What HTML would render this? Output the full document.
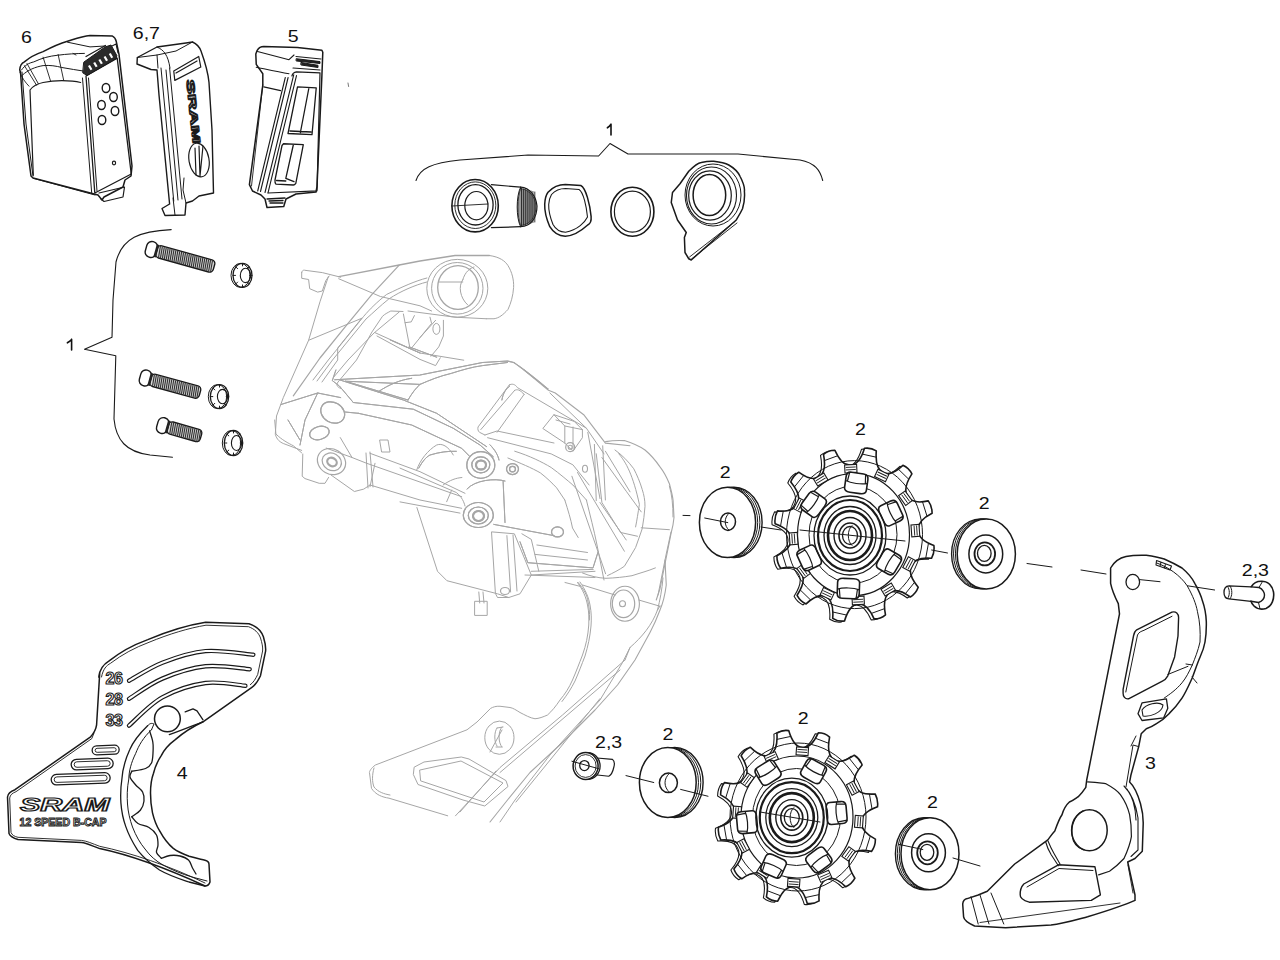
<!DOCTYPE html>
<html><head><meta charset="utf-8"><style>
html,body{margin:0;padding:0;background:#fff;width:1280px;height:960px;overflow:hidden}
svg{display:block;font-family:"Liberation Sans",sans-serif}
</style></head><body>
<svg width="1280" height="960" viewBox="0 0 1280 960" font-family="Liberation Sans, sans-serif">
<rect width="1280" height="960" fill="#fff"/>
<text transform="translate(21,42.5) scale(1.2,1)" font-size="16.3" fill="#111">6</text>
<text transform="translate(132.75,38.5) scale(1.2,1)" font-size="16.3" fill="#111">6,7</text>
<text transform="translate(287.8,41.5) scale(1.2,1)" font-size="16.3" fill="#111">5</text>
<text transform="translate(855.1,435.3) scale(1.2,1)" font-size="16.3" fill="#111">2</text>
<text transform="translate(719.8,477.5) scale(1.2,1)" font-size="16.3" fill="#111">2</text>
<text transform="translate(978.8,509.3) scale(1.2,1)" font-size="16.3" fill="#111">2</text>
<text transform="translate(1241.8,576.2) scale(1.2,1)" font-size="16.3" fill="#111">2,3</text>
<text transform="translate(1144.9,769.3) scale(1.2,1)" font-size="16.3" fill="#111">3</text>
<text transform="translate(176.8,778.8) scale(1.2,1)" font-size="16.3" fill="#111">4</text>
<text transform="translate(797.85,723.6) scale(1.2,1)" font-size="16.3" fill="#111">2</text>
<text transform="translate(662.5,739.7) scale(1.2,1)" font-size="16.3" fill="#111">2</text>
<text transform="translate(595,748.1) scale(1.2,1)" font-size="16.3" fill="#111">2,3</text>
<text transform="translate(927,807.5) scale(1.2,1)" font-size="16.3" fill="#111">2</text>
<path d="M611,124.2 L611,135 M607.4,127.8 C609,126.8 610.2,125.6 611,124.2" fill="none" stroke="#111" stroke-width="1.6" stroke-linejoin="round" stroke-linecap="round" />
<path d="M71.6,339.4 L71.6,350 M67.4,342.8 C69,341.8 70.6,340.6 71.6,339.4" fill="none" stroke="#111" stroke-width="1.6" stroke-linejoin="round" stroke-linecap="round" />
<path d="M416,180.5 C420,168 432,163 460,160 L528,155 L598.6,156 L610,143.5 L628,154 L738,154 L800,160 C815,163 820,170 822.7,180.5" fill="none" stroke="#1a1a1a" stroke-width="1.1" stroke-linejoin="round" stroke-linecap="round" />
<path d="M171.2,229.6 C140,231 122,238 116,262 L113,300 L112,337.3 L84.5,349.3 L115.8,355.7 L114,419 C116,440 126,452 150,455 L172.5,457.3" fill="none" stroke="#1a1a1a" stroke-width="1.1" stroke-linejoin="round" stroke-linecap="round" />
<path d="M491.4,184.6 L520.6,187.2 M491.4,227.6 L520.6,226.7" fill="none" stroke="#1a1a1a" stroke-width="1.2" stroke-linejoin="round" stroke-linecap="round" />
<path d="M520.6,187.2 C530,188 536,196 537,206 C537,218 531,226 520.6,226.7" fill="none" stroke="#1a1a1a" stroke-width="1.2" stroke-linejoin="round" stroke-linecap="round" />
<path d="M520.6,187.2 C516,196 516,218 520.6,226.7" fill="none" stroke="#1a1a1a" stroke-width="1.0" stroke-linejoin="round" stroke-linecap="round" />
<path d="M520.6,188.5 C529,189.5 535.5,197 536,206 C536,217 530,225 520.6,225.5 C517,217 517,197 520.6,188.5 Z" fill="#9a9a9a" stroke="#1a1a1a" stroke-width="0.8" stroke-linejoin="round" stroke-linecap="round" />
<path d="M521.5,188.5 L521.5,225.5" fill="none" stroke="#222" stroke-width="0.9" stroke-linejoin="round" stroke-linecap="round" />
<path d="M523.4,189.0 L523.4,225.0" fill="none" stroke="#222" stroke-width="0.9" stroke-linejoin="round" stroke-linecap="round" />
<path d="M525.3,189.5 L525.3,224.5" fill="none" stroke="#222" stroke-width="0.9" stroke-linejoin="round" stroke-linecap="round" />
<path d="M527.2,190.0 L527.2,224.0" fill="none" stroke="#222" stroke-width="0.9" stroke-linejoin="round" stroke-linecap="round" />
<path d="M529.1,190.5 L529.1,223.5" fill="none" stroke="#222" stroke-width="0.9" stroke-linejoin="round" stroke-linecap="round" />
<path d="M531.0,191.0 L531.0,223.0" fill="none" stroke="#222" stroke-width="0.9" stroke-linejoin="round" stroke-linecap="round" />
<path d="M532.9,191.5 L532.9,222.5" fill="none" stroke="#222" stroke-width="0.9" stroke-linejoin="round" stroke-linecap="round" />
<path d="M534.8,192.0 L534.8,222.0" fill="none" stroke="#222" stroke-width="0.9" stroke-linejoin="round" stroke-linecap="round" />
<ellipse cx="475.1" cy="205.7" rx="23.2" ry="26.2" fill="none" stroke="#1a1a1a" stroke-width="1.6" />
<ellipse cx="475.5" cy="204.8" rx="17.6" ry="20.2" fill="none" stroke="#1a1a1a" stroke-width="1.3" />
<ellipse cx="475.3" cy="205.2" rx="20.5" ry="23.3" fill="none" stroke="#1a1a1a" stroke-width="0.9" />
<ellipse cx="476.4" cy="205.7" rx="11.6" ry="14.2" fill="none" stroke="#1a1a1a" stroke-width="1.2" />
<path d="M452,206 L488,204" fill="none" stroke="#1a1a1a" stroke-width="0.9" stroke-linejoin="round" stroke-linecap="round" />
<path d="M548,192.3 C554,186 560,184.6 565.3,184.6 L580.8,185.5 C586,188 590,205 591.1,216.4 C591.5,221 590,224 587.7,225 C580,232 572,236 565.3,236.2 C558,236 553,232 549.8,226.7 C546,218 544.5,210 544.7,204.4 C545,198 546,195 548,192.3Z" fill="none" stroke="#1a1a1a" stroke-width="1.5" stroke-linejoin="round" stroke-linecap="round" />
<path d="M551.5,194.5 C556,189.5 561,188.5 565.5,188.5 L579,189.5 C583.5,192 586.5,207 587.5,217 C585,222 578,230 565.5,232.2 C559,232 555.5,229 553,224.5 C550,217 548.5,210 548.7,204.5 C549,199 550,197 551.5,194.5Z" fill="none" stroke="#1a1a1a" stroke-width="1.1" stroke-linejoin="round" stroke-linecap="round" />
<ellipse cx="632.4" cy="211.7" rx="21.5" ry="24.5" fill="none" stroke="#1a1a1a" stroke-width="1.6" />
<ellipse cx="632.4" cy="211.7" rx="18.0" ry="20.5" fill="none" stroke="#1a1a1a" stroke-width="1.2" />
<path d="M688.75,258.75 L685,252.5 L684.4,237.5 L686.25,232.5 L677.5,220 L671.25,202.5 L672.5,192.5 L680,183.75 L688.75,171.25 C694,166 698,163 701.25,162.5 C708,161 711,161 713.75,161.25 C720,162 725,163 728.75,165 C734,168 738,172 740,176.25 C743,182 745,187 744.4,191.25 C745,198 744,204 742.5,208.75 C740,214 738,217 736.25,220 L691.25,260 Z" fill="none" stroke="#1a1a1a" stroke-width="1.5" stroke-linejoin="round" stroke-linecap="round" />
<ellipse cx="709.4" cy="195.0" rx="16.3" ry="20.6" fill="none" stroke="#1a1a1a" stroke-width="1.5" />
<ellipse cx="710.0" cy="195.5" rx="21.3" ry="24.7" fill="none" stroke="#1a1a1a" stroke-width="1.2" />
<ellipse cx="711.5" cy="195.5" rx="25.0" ry="28.5" fill="none" stroke="#1a1a1a" stroke-width="1.1" />
<ellipse cx="713.0" cy="195.0" rx="28.0" ry="31.0" fill="none" stroke="#1a1a1a" stroke-width="1.0" />
<path d="M689.5,257 L735,221.5 M691.5,259 L737,223" fill="none" stroke="#1a1a1a" stroke-width="0.9" stroke-linejoin="round" stroke-linecap="round" />
<g transform="translate(151.5,249.5) rotate(15.6)"><rect x="5.2" y="-6.3" width="59.7" height="12.6" rx="3.8" fill="#d8d8d8" stroke="#1a1a1a" stroke-width="1.4"/><path d="M7.7,-5.8 L8.9,5.8" stroke="#333" stroke-width="1.15"/><path d="M9.7,-5.8 L10.9,5.8" stroke="#333" stroke-width="1.15"/><path d="M11.7,-5.8 L12.9,5.8" stroke="#333" stroke-width="1.15"/><path d="M13.7,-5.8 L14.9,5.8" stroke="#333" stroke-width="1.15"/><path d="M15.7,-5.8 L16.9,5.8" stroke="#333" stroke-width="1.15"/><path d="M17.7,-5.8 L18.9,5.8" stroke="#333" stroke-width="1.15"/><path d="M19.7,-5.8 L20.9,5.8" stroke="#333" stroke-width="1.15"/><path d="M21.7,-5.8 L22.9,5.8" stroke="#333" stroke-width="1.15"/><path d="M23.7,-5.8 L24.9,5.8" stroke="#333" stroke-width="1.15"/><path d="M25.7,-5.8 L26.9,5.8" stroke="#333" stroke-width="1.15"/><path d="M27.7,-5.8 L28.9,5.8" stroke="#333" stroke-width="1.15"/><path d="M29.7,-5.8 L30.9,5.8" stroke="#333" stroke-width="1.15"/><path d="M31.7,-5.8 L32.9,5.8" stroke="#333" stroke-width="1.15"/><path d="M33.7,-5.8 L34.9,5.8" stroke="#333" stroke-width="1.15"/><path d="M35.7,-5.8 L36.9,5.8" stroke="#333" stroke-width="1.15"/><path d="M37.7,-5.8 L38.9,5.8" stroke="#333" stroke-width="1.15"/><path d="M39.7,-5.8 L40.9,5.8" stroke="#333" stroke-width="1.15"/><path d="M41.7,-5.8 L42.9,5.8" stroke="#333" stroke-width="1.15"/><path d="M43.7,-5.8 L44.9,5.8" stroke="#333" stroke-width="1.15"/><path d="M45.7,-5.8 L46.9,5.8" stroke="#333" stroke-width="1.15"/><path d="M47.7,-5.8 L48.9,5.8" stroke="#333" stroke-width="1.15"/><path d="M49.7,-5.8 L50.9,5.8" stroke="#333" stroke-width="1.15"/><path d="M51.7,-5.8 L52.9,5.8" stroke="#333" stroke-width="1.15"/><path d="M53.7,-5.8 L54.9,5.8" stroke="#333" stroke-width="1.15"/><path d="M55.7,-5.8 L56.9,5.8" stroke="#333" stroke-width="1.15"/><path d="M57.7,-5.8 L58.9,5.8" stroke="#333" stroke-width="1.15"/><path d="M59.7,-5.8 L60.9,5.8" stroke="#333" stroke-width="1.15"/><path d="M61.7,-5.8 L62.9,5.8" stroke="#333" stroke-width="1.15"/><rect x="-5.6" y="-8.0" width="11.0" height="16.0" rx="5.2" fill="#fff" stroke="#1a1a1a" stroke-width="1.4"/><rect x="3.7" y="-6.5" width="2.6" height="13.0" fill="#222"/></g>
<g transform="translate(145.5,378) rotate(15.4)"><rect x="5.2" y="-6.3" width="51.3" height="12.6" rx="3.8" fill="#d8d8d8" stroke="#1a1a1a" stroke-width="1.4"/><path d="M7.7,-5.8 L8.9,5.8" stroke="#333" stroke-width="1.15"/><path d="M9.7,-5.8 L10.9,5.8" stroke="#333" stroke-width="1.15"/><path d="M11.7,-5.8 L12.9,5.8" stroke="#333" stroke-width="1.15"/><path d="M13.7,-5.8 L14.9,5.8" stroke="#333" stroke-width="1.15"/><path d="M15.7,-5.8 L16.9,5.8" stroke="#333" stroke-width="1.15"/><path d="M17.7,-5.8 L18.9,5.8" stroke="#333" stroke-width="1.15"/><path d="M19.7,-5.8 L20.9,5.8" stroke="#333" stroke-width="1.15"/><path d="M21.7,-5.8 L22.9,5.8" stroke="#333" stroke-width="1.15"/><path d="M23.7,-5.8 L24.9,5.8" stroke="#333" stroke-width="1.15"/><path d="M25.7,-5.8 L26.9,5.8" stroke="#333" stroke-width="1.15"/><path d="M27.7,-5.8 L28.9,5.8" stroke="#333" stroke-width="1.15"/><path d="M29.7,-5.8 L30.9,5.8" stroke="#333" stroke-width="1.15"/><path d="M31.7,-5.8 L32.9,5.8" stroke="#333" stroke-width="1.15"/><path d="M33.7,-5.8 L34.9,5.8" stroke="#333" stroke-width="1.15"/><path d="M35.7,-5.8 L36.9,5.8" stroke="#333" stroke-width="1.15"/><path d="M37.7,-5.8 L38.9,5.8" stroke="#333" stroke-width="1.15"/><path d="M39.7,-5.8 L40.9,5.8" stroke="#333" stroke-width="1.15"/><path d="M41.7,-5.8 L42.9,5.8" stroke="#333" stroke-width="1.15"/><path d="M43.7,-5.8 L44.9,5.8" stroke="#333" stroke-width="1.15"/><path d="M45.7,-5.8 L46.9,5.8" stroke="#333" stroke-width="1.15"/><path d="M47.7,-5.8 L48.9,5.8" stroke="#333" stroke-width="1.15"/><path d="M49.7,-5.8 L50.9,5.8" stroke="#333" stroke-width="1.15"/><path d="M51.7,-5.8 L52.9,5.8" stroke="#333" stroke-width="1.15"/><path d="M53.7,-5.8 L54.9,5.8" stroke="#333" stroke-width="1.15"/><rect x="-5.6" y="-8.0" width="11.0" height="16.0" rx="5.2" fill="#fff" stroke="#1a1a1a" stroke-width="1.4"/><rect x="3.7" y="-6.5" width="2.6" height="13.0" fill="#222"/></g>
<g transform="translate(162.8,425.6) rotate(15.9)"><rect x="5.2" y="-6.3" width="34.5" height="12.6" rx="3.8" fill="#d8d8d8" stroke="#1a1a1a" stroke-width="1.4"/><path d="M7.7,-5.8 L8.9,5.8" stroke="#333" stroke-width="1.15"/><path d="M9.7,-5.8 L10.9,5.8" stroke="#333" stroke-width="1.15"/><path d="M11.7,-5.8 L12.9,5.8" stroke="#333" stroke-width="1.15"/><path d="M13.7,-5.8 L14.9,5.8" stroke="#333" stroke-width="1.15"/><path d="M15.7,-5.8 L16.9,5.8" stroke="#333" stroke-width="1.15"/><path d="M17.7,-5.8 L18.9,5.8" stroke="#333" stroke-width="1.15"/><path d="M19.7,-5.8 L20.9,5.8" stroke="#333" stroke-width="1.15"/><path d="M21.7,-5.8 L22.9,5.8" stroke="#333" stroke-width="1.15"/><path d="M23.7,-5.8 L24.9,5.8" stroke="#333" stroke-width="1.15"/><path d="M25.7,-5.8 L26.9,5.8" stroke="#333" stroke-width="1.15"/><path d="M27.7,-5.8 L28.9,5.8" stroke="#333" stroke-width="1.15"/><path d="M29.7,-5.8 L30.9,5.8" stroke="#333" stroke-width="1.15"/><path d="M31.7,-5.8 L32.9,5.8" stroke="#333" stroke-width="1.15"/><path d="M33.7,-5.8 L34.9,5.8" stroke="#333" stroke-width="1.15"/><path d="M35.7,-5.8 L36.9,5.8" stroke="#333" stroke-width="1.15"/><path d="M37.7,-5.8 L38.9,5.8" stroke="#333" stroke-width="1.15"/><rect x="-5.6" y="-8.0" width="11.0" height="16.0" rx="5.2" fill="#fff" stroke="#1a1a1a" stroke-width="1.4"/><rect x="3.7" y="-6.5" width="2.6" height="13.0" fill="#222"/></g>
<ellipse cx="242.5" cy="275.4" rx="9.5" ry="12.0" fill="#fff" stroke="#1a1a1a" stroke-width="1.3" />
<ellipse cx="245.5" cy="275.4" rx="5.2" ry="7.2" fill="none" stroke="#1a1a1a" stroke-width="1.1" />
<path d="M252.0,275.4 L249.5,275.4" fill="none" stroke="#1a1a1a" stroke-width="1" stroke-linejoin="round" stroke-linecap="round" />
<path d="M249.2,283.9 L247.4,282.1" fill="none" stroke="#1a1a1a" stroke-width="1" stroke-linejoin="round" stroke-linecap="round" />
<path d="M242.5,287.4 L242.5,284.9" fill="none" stroke="#1a1a1a" stroke-width="1" stroke-linejoin="round" stroke-linecap="round" />
<path d="M235.8,283.9 L237.6,282.1" fill="none" stroke="#1a1a1a" stroke-width="1" stroke-linejoin="round" stroke-linecap="round" />
<path d="M233.0,275.4 L235.5,275.4" fill="none" stroke="#1a1a1a" stroke-width="1" stroke-linejoin="round" stroke-linecap="round" />
<path d="M235.8,266.9 L237.6,268.7" fill="none" stroke="#1a1a1a" stroke-width="1" stroke-linejoin="round" stroke-linecap="round" />
<path d="M242.5,263.4 L242.5,265.9" fill="none" stroke="#1a1a1a" stroke-width="1" stroke-linejoin="round" stroke-linecap="round" />
<path d="M249.2,266.9 L247.4,268.7" fill="none" stroke="#1a1a1a" stroke-width="1" stroke-linejoin="round" stroke-linecap="round" />
<ellipse cx="240.5" cy="275.4" rx="9.5" ry="12.0" fill="none" stroke="#1a1a1a" stroke-width="1.0" />
<ellipse cx="219.5" cy="396.6" rx="9.2" ry="12.0" fill="#fff" stroke="#1a1a1a" stroke-width="1.3" />
<ellipse cx="222.5" cy="396.6" rx="5.1" ry="7.2" fill="none" stroke="#1a1a1a" stroke-width="1.1" />
<path d="M228.7,396.6 L226.2,396.6" fill="none" stroke="#1a1a1a" stroke-width="1" stroke-linejoin="round" stroke-linecap="round" />
<path d="M226.0,405.1 L224.2,403.3" fill="none" stroke="#1a1a1a" stroke-width="1" stroke-linejoin="round" stroke-linecap="round" />
<path d="M219.5,408.6 L219.5,406.1" fill="none" stroke="#1a1a1a" stroke-width="1" stroke-linejoin="round" stroke-linecap="round" />
<path d="M213.0,405.1 L214.8,403.3" fill="none" stroke="#1a1a1a" stroke-width="1" stroke-linejoin="round" stroke-linecap="round" />
<path d="M210.3,396.6 L212.8,396.6" fill="none" stroke="#1a1a1a" stroke-width="1" stroke-linejoin="round" stroke-linecap="round" />
<path d="M213.0,388.1 L214.8,389.9" fill="none" stroke="#1a1a1a" stroke-width="1" stroke-linejoin="round" stroke-linecap="round" />
<path d="M219.5,384.6 L219.5,387.1" fill="none" stroke="#1a1a1a" stroke-width="1" stroke-linejoin="round" stroke-linecap="round" />
<path d="M226.0,388.1 L224.2,389.9" fill="none" stroke="#1a1a1a" stroke-width="1" stroke-linejoin="round" stroke-linecap="round" />
<ellipse cx="217.5" cy="396.6" rx="9.2" ry="12.0" fill="none" stroke="#1a1a1a" stroke-width="1.0" />
<ellipse cx="233.5" cy="443.0" rx="9.2" ry="12.5" fill="#fff" stroke="#1a1a1a" stroke-width="1.3" />
<ellipse cx="236.5" cy="443.0" rx="5.1" ry="7.5" fill="none" stroke="#1a1a1a" stroke-width="1.1" />
<path d="M242.7,443.0 L240.2,443.0" fill="none" stroke="#1a1a1a" stroke-width="1" stroke-linejoin="round" stroke-linecap="round" />
<path d="M240.0,451.8 L238.2,450.1" fill="none" stroke="#1a1a1a" stroke-width="1" stroke-linejoin="round" stroke-linecap="round" />
<path d="M233.5,455.5 L233.5,453.0" fill="none" stroke="#1a1a1a" stroke-width="1" stroke-linejoin="round" stroke-linecap="round" />
<path d="M227.0,451.8 L228.8,450.1" fill="none" stroke="#1a1a1a" stroke-width="1" stroke-linejoin="round" stroke-linecap="round" />
<path d="M224.3,443.0 L226.8,443.0" fill="none" stroke="#1a1a1a" stroke-width="1" stroke-linejoin="round" stroke-linecap="round" />
<path d="M227.0,434.2 L228.8,435.9" fill="none" stroke="#1a1a1a" stroke-width="1" stroke-linejoin="round" stroke-linecap="round" />
<path d="M233.5,430.5 L233.5,433.0" fill="none" stroke="#1a1a1a" stroke-width="1" stroke-linejoin="round" stroke-linecap="round" />
<path d="M240.0,434.2 L238.2,435.9" fill="none" stroke="#1a1a1a" stroke-width="1" stroke-linejoin="round" stroke-linecap="round" />
<ellipse cx="231.5" cy="443.0" rx="9.2" ry="12.5" fill="none" stroke="#1a1a1a" stroke-width="1.0" />
<path d="M19.7,70 C20,65 22,63 24.4,61.9 C30,57 36,54 43.1,51.6 C50,48 58,44 67.5,41.25 C75,39 82,36.5 90,35.6 L112.5,36.1 C114.5,37 115.7,39 116.2,41.25 L119,54.4 L132,166 L131,176 L125,180 L123,187 L104,197 L102,200 L98,195 L33,178 L31,176 L24,124 L20.5,72 Z" fill="none" stroke="#1a1a1a" stroke-width="1.5" stroke-linejoin="round" stroke-linecap="round" />
<path d="M22,72 L26,124 L33,176" fill="none" stroke="#1a1a1a" stroke-width="1.0" stroke-linejoin="round" stroke-linecap="round" />
<path d="M86,76 L117.2,58.1 L131.25,174 L94.8,193 Z" fill="none" stroke="#1a1a1a" stroke-width="1.3" stroke-linejoin="round" stroke-linecap="round" />
<path d="M82.5,78 L91.7,193 M88.5,78 L97,191" fill="none" stroke="#1a1a1a" stroke-width="1.0" stroke-linejoin="round" stroke-linecap="round" />
<path d="M30,90 C33,86 38,83.5 43.1,82.5 C50,81 56,80.6 61.9,80.6 C68,80.6 75,81 80.6,82.5 M30,90 L33.3,175.2" fill="none" stroke="#1a1a1a" stroke-width="1.2" stroke-linejoin="round" stroke-linecap="round" />
<path d="M33.3,178.3 L95,195" fill="none" stroke="#1a1a1a" stroke-width="1.0" stroke-linejoin="round" stroke-linecap="round" />
<path d="M21.5,70 C25,65 29,63 33.75,61.9 C42,58 50,56 57.2,55.3 C67,54 76,53.5 84.4,53.4" fill="none" stroke="#1a1a1a" stroke-width="1.0" stroke-linejoin="round" stroke-linecap="round" />
<path d="M22.5,75 C28,70 35,67 43.1,65.6 C50,65 56,66 61.9,67.5 C70,69 77,70 84.4,71.2" fill="none" stroke="#1a1a1a" stroke-width="1.0" stroke-linejoin="round" stroke-linecap="round" />
<path d="M67.5,42.2 L90,46.9 L105,46" fill="none" stroke="#1a1a1a" stroke-width="1.0" stroke-linejoin="round" stroke-linecap="round" />
<path d="M24.4,65.6 L36.6,85.3 M27,63.5 L38.5,84 M43.1,57.2 L50.6,81.1 M58.1,54.4 L63.75,80.6 M73.1,53.4 L76,55" fill="none" stroke="#1a1a1a" stroke-width="0.9" stroke-linejoin="round" stroke-linecap="round" />
<path d="M19.7,72 C22,78 25,82 29,86.2" fill="none" stroke="#1a1a1a" stroke-width="0.9" stroke-linejoin="round" stroke-linecap="round" />
<path d="M84,62 L105,47 L111,45 L116.8,55.5 L116.2,58.5 L87,75.5 L83,73 Z" fill="#2b2b2b" stroke="#1a1a1a" stroke-width="1.0" stroke-linejoin="round" stroke-linecap="round" />
<path d="M86,56.5 L105.5,45.5" fill="none" stroke="#1a1a1a" stroke-width="1.3" stroke-linejoin="round" stroke-linecap="round" />
<rect x="88.0" y="66.0" width="2.2" height="5" fill="#fff" transform="rotate(-30 88.0 66.0)"/>
<rect x="93.2" y="63.0" width="2.2" height="5" fill="#fff" transform="rotate(-30 93.2 63.0)"/>
<rect x="98.4" y="60.0" width="2.2" height="5" fill="#fff" transform="rotate(-30 98.4 60.0)"/>
<rect x="103.6" y="57.0" width="2.2" height="5" fill="#fff" transform="rotate(-30 103.6 57.0)"/>
<rect x="108.8" y="54.0" width="2.2" height="5" fill="#fff" transform="rotate(-30 108.8 54.0)"/>
<path d="M112,46 L116,44 L118,53" fill="none" stroke="#1a1a1a" stroke-width="1.1" stroke-linejoin="round" stroke-linecap="round" />
<ellipse cx="106.0" cy="88.0" rx="3.8" ry="4.5" fill="none" stroke="#1a1a1a" stroke-width="1.4" />
<ellipse cx="113.5" cy="97.0" rx="3.8" ry="4.5" fill="none" stroke="#1a1a1a" stroke-width="1.4" />
<ellipse cx="101.5" cy="105.0" rx="3.8" ry="4.5" fill="none" stroke="#1a1a1a" stroke-width="1.4" />
<ellipse cx="115.0" cy="111.0" rx="3.8" ry="4.5" fill="none" stroke="#1a1a1a" stroke-width="1.4" />
<ellipse cx="102.0" cy="120.0" rx="3.8" ry="4.5" fill="none" stroke="#1a1a1a" stroke-width="1.4" />
<ellipse cx="114.0" cy="163.0" rx="1.6" ry="1.8" fill="none" stroke="#1a1a1a" stroke-width="1.2" />
<path d="M99,193 L124.5,187 L123,197 L104,201.5 L101,199" fill="none" stroke="#1a1a1a" stroke-width="1.2" stroke-linejoin="round" stroke-linecap="round" />
<path d="M137.3,57.5 L157,47 L186,43 L192.5,42 C197,44 199.5,47 201,51 C205,62 208,72 209,82.5 L212,130 L213.5,193 L199,196 L192.5,201 L186,203 L185,215 L165,215.5 L162,208.5 L169.6,204 L159,95 L157,70 L151,69.5 L137,64 Z" fill="none" stroke="#1a1a1a" stroke-width="1.4" stroke-linejoin="round" stroke-linecap="round" />
<path d="M137.3,57.5 L157,55 L176,51 L192.5,42 M157,55 L158,68 M161,68 L173.75,201 M166,70 L178,200 M169.6,68 L182,199" fill="none" stroke="#1a1a1a" stroke-width="1.0" stroke-linejoin="round" stroke-linecap="round" />
<path d="M157,47 C164,50 168,55 170,68" fill="none" stroke="#1a1a1a" stroke-width="1.0" stroke-linejoin="round" stroke-linecap="round" />
<path d="M173.75,71 L198.75,56.5 L200.8,67 L174.8,80.4 Z M176,73 L197,61" fill="none" stroke="#1a1a1a" stroke-width="1.2" stroke-linejoin="round" stroke-linecap="round" />
<text x="0" y="0" font-size="11" font-weight="bold" fill="#fff" stroke="#1a1a1a" stroke-width="1.2" stroke-linejoin="round" transform="translate(186.2,80) rotate(84)" textLength="64" lengthAdjust="spacingAndGlyphs">SRAM</text>
<ellipse cx="199.0" cy="160.0" rx="10.0" ry="17.0" fill="none" stroke="#1a1a1a" stroke-width="1.2" transform="rotate(-10 199 160)" />
<path d="M195,148 L196,175 M199,146 L200,176 L203,146" fill="none" stroke="#1a1a1a" stroke-width="1.2" stroke-linejoin="round" stroke-linecap="round" />
<path d="M173,198 L175,215 M186,203 L183,190 L184,178" fill="none" stroke="#1a1a1a" stroke-width="1.0" stroke-linejoin="round" stroke-linecap="round" />
<path d="M257.2,50.3 C259,47.5 261,46.6 263.75,46.6 L297.5,47.5 L321.9,50.3 L322.8,52.2 L321.9,75.6 L317,186.7 L316,192 L296,194 L286,199 L283.75,206.5 L267,207.5 L265,199 L261,195 L252.5,191 L249.4,184.6 L262.8,85 L262.8,73.75 L256.25,64.4 L255.8,54 Z" fill="none" stroke="#1a1a1a" stroke-width="1.5" stroke-linejoin="round" stroke-linecap="round" />
<path d="M256.25,67.2 C265,69 278,72 289,73.75 M263.75,86.9 L280.6,90.6 M257.5,51.5 L289,59.7 L294,55" fill="none" stroke="#1a1a1a" stroke-width="1.1" stroke-linejoin="round" stroke-linecap="round" />
<path d="M262.8,85 L251.5,186" fill="none" stroke="#1a1a1a" stroke-width="0.9" stroke-linejoin="round" stroke-linecap="round" />
<path d="M285.3,77.5 L257.7,191 M288.1,77.5 L260.5,191.5 M293.75,74.7 L265,192.5 M296.5,75.6 L268,192.8" fill="none" stroke="#1a1a1a" stroke-width="1.1" stroke-linejoin="round" stroke-linecap="round" />
<path d="M291.9,76 C292.5,73.5 294,72.2 296.5,71.9 L320,72.8 L317,190.8 L268,193" fill="none" stroke="#1a1a1a" stroke-width="1.2" stroke-linejoin="round" stroke-linecap="round" />
<path d="M297.5,86.9 L316.25,87.8 L312,134.6 L288,133.5 Z M308.75,88.75 L300.4,132.5 M290,131 L311,132" fill="none" stroke="#1a1a1a" stroke-width="1.3" stroke-linejoin="round" stroke-linecap="round" />
<path d="M283.5,143.75 L303.3,144.6 L295.8,183.3 C295,184.5 294,185 293.3,185 L276,184.2 C275,183.5 274.8,182 275,180 L282,145.5 Z M293.3,145 L285.8,178.3 L294,181.7 M276.5,180.5 L285.8,181" fill="none" stroke="#1a1a1a" stroke-width="1.3" stroke-linejoin="round" stroke-linecap="round" />
<path d="M296.5,58.75 L320,61.6 L320,63.5 L296.5,61 Z M301.25,62.5 L318,65.3 L318,67.5 L301.25,65 Z" fill="#222" stroke="#1a1a1a" stroke-width="1.0" stroke-linejoin="round" stroke-linecap="round" />
<path d="M296,56.5 L321,59 M293,68 L320,70" fill="none" stroke="#1a1a1a" stroke-width="1.1" stroke-linejoin="round" stroke-linecap="round" />
<path d="M267,199 L285,198 M270,203 L283,203 M269,201 L283,200.5" fill="none" stroke="#1a1a1a" stroke-width="1.3" stroke-linejoin="round" stroke-linecap="round" />
<path d="M348,83 L348.6,86.5" fill="none" stroke="#777" stroke-width="1.0" stroke-linejoin="round" stroke-linecap="round" />
<path d="M930.9,546.5 Q931.8,553.4 928.5,559.3 C916.2,558.3 910.8,561.0 908.5,566.7 C905.7,572.2 907.1,578.4 915.2,588.2 Q912.9,594.6 907.3,598.0 C897.2,590.6 891.3,590.0 886.6,593.7 C881.7,596.9 880.0,603.0 882.5,615.8 Q877.5,620.0 871.1,619.9 C865.9,608.2 861.1,604.5 855.4,605.1 C849.7,605.2 845.3,609.5 841.5,621.9 Q835.2,622.9 829.7,619.3 C830.7,606.3 828.3,600.5 823.1,597.9 C818.1,594.9 812.3,596.3 803.1,604.9 Q797.2,602.3 794.1,596.3 C801.1,585.5 801.8,579.1 798.4,574.0 C795.5,568.7 789.8,566.7 777.7,569.3 Q773.8,563.9 773.9,556.9 C785.0,551.3 788.5,546.1 787.9,539.9 C787.8,533.6 783.8,528.9 772.1,524.7 Q771.2,517.8 774.5,511.9 C786.8,512.9 792.2,510.2 794.5,504.5 C797.3,499.0 795.9,492.8 787.8,483.0 Q790.1,476.6 795.7,473.2 C805.8,480.6 811.7,481.2 816.4,477.5 C821.3,474.3 823.0,468.2 820.5,455.4 Q825.5,451.2 831.9,451.3 C837.1,463.0 841.9,466.7 847.6,466.1 C853.3,466.0 857.7,461.7 861.5,449.3 Q867.8,448.3 873.3,451.9 C872.3,464.9 874.7,470.7 879.9,473.3 C884.9,476.3 890.7,474.9 899.9,466.3 Q905.8,468.9 908.9,474.9 C901.9,485.7 901.2,492.1 904.6,497.2 C907.5,502.5 913.2,504.5 925.3,501.9 Q929.2,507.3 929.1,514.3 C918.0,519.9 914.5,525.1 915.1,531.3 C915.2,537.6 919.2,542.3 930.9,546.5Z" fill="#fff" stroke="#1a1a1a" stroke-width="1.1" stroke-linejoin="round" stroke-linecap="round" />
<path d="M933.9,545.5 Q934.8,552.4 931.5,558.3 C919.2,557.3 913.8,560.0 911.5,565.7 C908.7,571.2 910.1,577.4 918.2,587.2 Q915.9,593.6 910.3,597.0 C900.2,589.6 894.3,589.0 889.6,592.7 C884.7,595.9 883.0,602.0 885.5,614.8 Q880.5,619.0 874.1,618.9 C868.9,607.2 864.1,603.5 858.4,604.1 C852.7,604.2 848.3,608.5 844.5,620.9 Q838.2,621.9 832.7,618.3 C833.7,605.3 831.3,599.5 826.1,596.9 C821.1,593.9 815.3,595.3 806.1,603.9 Q800.2,601.3 797.1,595.3 C804.1,584.5 804.8,578.1 801.4,573.0 C798.5,567.7 792.8,565.7 780.7,568.3 Q776.8,562.9 776.9,555.9 C788.0,550.3 791.5,545.1 790.9,538.9 C790.8,532.6 786.8,527.9 775.1,523.7 Q774.2,516.8 777.5,510.9 C789.8,511.9 795.2,509.2 797.5,503.5 C800.3,498.0 798.9,491.8 790.8,482.0 Q793.1,475.6 798.7,472.2 C808.8,479.6 814.7,480.2 819.4,476.5 C824.3,473.3 826.0,467.2 823.5,454.4 Q828.5,450.2 834.9,450.3 C840.1,462.0 844.9,465.7 850.6,465.1 C856.3,465.0 860.7,460.7 864.5,448.3 Q870.8,447.3 876.3,450.9 C875.3,463.9 877.7,469.7 882.9,472.3 C887.9,475.3 893.7,473.9 902.9,465.3 Q908.8,467.9 911.9,473.9 C904.9,484.7 904.2,491.1 907.6,496.2 C910.5,501.5 916.2,503.5 928.3,500.9 Q932.2,506.3 932.1,513.3 C921.0,518.9 917.5,524.1 918.1,530.3 C918.2,536.6 922.2,541.3 933.9,545.5Z" fill="#fff" stroke="#1a1a1a" stroke-width="1.6" stroke-linejoin="round" stroke-linecap="round" />
<path d="M928.4,543.5 L925.8,557.8" fill="none" stroke="#1a1a1a" stroke-width="1.0" stroke-linejoin="round" stroke-linecap="round" />
<path d="M914.4,582.5 L905.6,593.4" fill="none" stroke="#1a1a1a" stroke-width="1.0" stroke-linejoin="round" stroke-linecap="round" />
<path d="M884.4,608.7 L871.7,613.3" fill="none" stroke="#1a1a1a" stroke-width="1.0" stroke-linejoin="round" stroke-linecap="round" />
<path d="M846.3,615.0 L833.2,612.1" fill="none" stroke="#1a1a1a" stroke-width="1.0" stroke-linejoin="round" stroke-linecap="round" />
<path d="M810.4,599.8 L800.4,590.1" fill="none" stroke="#1a1a1a" stroke-width="1.0" stroke-linejoin="round" stroke-linecap="round" />
<path d="M786.4,567.1 L782.1,553.3" fill="none" stroke="#1a1a1a" stroke-width="1.0" stroke-linejoin="round" stroke-linecap="round" />
<path d="M780.6,525.7 L783.2,511.4" fill="none" stroke="#1a1a1a" stroke-width="1.0" stroke-linejoin="round" stroke-linecap="round" />
<path d="M794.6,486.7 L803.4,475.8" fill="none" stroke="#1a1a1a" stroke-width="1.0" stroke-linejoin="round" stroke-linecap="round" />
<path d="M824.6,460.5 L837.3,455.9" fill="none" stroke="#1a1a1a" stroke-width="1.0" stroke-linejoin="round" stroke-linecap="round" />
<path d="M862.7,454.2 L875.8,457.1" fill="none" stroke="#1a1a1a" stroke-width="1.0" stroke-linejoin="round" stroke-linecap="round" />
<path d="M898.6,469.4 L908.6,479.1" fill="none" stroke="#1a1a1a" stroke-width="1.0" stroke-linejoin="round" stroke-linecap="round" />
<path d="M922.6,502.1 L926.9,515.9" fill="none" stroke="#1a1a1a" stroke-width="1.0" stroke-linejoin="round" stroke-linecap="round" />
<ellipse cx="854.5" cy="534.6" rx="68.0" ry="74.0" fill="none" stroke="#1a1a1a" stroke-width="1.0" />
<ellipse cx="853.5" cy="534.6" rx="56.0" ry="61.0" fill="none" stroke="#1a1a1a" stroke-width="1.2" />
<ellipse cx="853.0" cy="534.6" rx="44.0" ry="48.5" fill="none" stroke="#1a1a1a" stroke-width="1.0" />
<g transform="translate(909.1,564.0) rotate(118)"><rect x="-6" y="-4" width="12" height="8" fill="#fff" stroke="#1a1a1a" stroke-width="1.1"/><path d="M-5,-1.5 L5,-1.5 M-5,1 L5,1" stroke="#1a1a1a" stroke-width="0.9"/></g>
<g transform="translate(888.2,589.6) rotate(149)"><rect x="-6" y="-4" width="12" height="8" fill="#fff" stroke="#1a1a1a" stroke-width="1.1"/><path d="M-5,-1.5 L5,-1.5 M-5,1 L5,1" stroke="#1a1a1a" stroke-width="0.9"/></g>
<g transform="translate(858.2,600.5) rotate(177)"><rect x="-6" y="-4" width="12" height="8" fill="#fff" stroke="#1a1a1a" stroke-width="1.1"/><path d="M-5,-1.5 L5,-1.5 M-5,1 L5,1" stroke="#1a1a1a" stroke-width="0.9"/></g>
<g transform="translate(827.3,593.7) rotate(205)"><rect x="-6" y="-4" width="12" height="8" fill="#fff" stroke="#1a1a1a" stroke-width="1.1"/><path d="M-5,-1.5 L5,-1.5 M-5,1 L5,1" stroke="#1a1a1a" stroke-width="0.9"/></g>
<g transform="translate(803.6,571.0) rotate(234)"><rect x="-6" y="-4" width="12" height="8" fill="#fff" stroke="#1a1a1a" stroke-width="1.1"/><path d="M-5,-1.5 L5,-1.5 M-5,1 L5,1" stroke="#1a1a1a" stroke-width="0.9"/></g>
<g transform="translate(793.6,538.6) rotate(266)"><rect x="-6" y="-4" width="12" height="8" fill="#fff" stroke="#1a1a1a" stroke-width="1.1"/><path d="M-5,-1.5 L5,-1.5 M-5,1 L5,1" stroke="#1a1a1a" stroke-width="0.9"/></g>
<g transform="translate(799.9,505.2) rotate(-62)"><rect x="-6" y="-4" width="12" height="8" fill="#fff" stroke="#1a1a1a" stroke-width="1.1"/><path d="M-5,-1.5 L5,-1.5 M-5,1 L5,1" stroke="#1a1a1a" stroke-width="0.9"/></g>
<g transform="translate(820.8,479.6) rotate(-31)"><rect x="-6" y="-4" width="12" height="8" fill="#fff" stroke="#1a1a1a" stroke-width="1.1"/><path d="M-5,-1.5 L5,-1.5 M-5,1 L5,1" stroke="#1a1a1a" stroke-width="0.9"/></g>
<g transform="translate(850.8,468.7) rotate(-3)"><rect x="-6" y="-4" width="12" height="8" fill="#fff" stroke="#1a1a1a" stroke-width="1.1"/><path d="M-5,-1.5 L5,-1.5 M-5,1 L5,1" stroke="#1a1a1a" stroke-width="0.9"/></g>
<g transform="translate(881.7,475.5) rotate(25)"><rect x="-6" y="-4" width="12" height="8" fill="#fff" stroke="#1a1a1a" stroke-width="1.1"/><path d="M-5,-1.5 L5,-1.5 M-5,1 L5,1" stroke="#1a1a1a" stroke-width="0.9"/></g>
<g transform="translate(905.4,498.2) rotate(54)"><rect x="-6" y="-4" width="12" height="8" fill="#fff" stroke="#1a1a1a" stroke-width="1.1"/><path d="M-5,-1.5 L5,-1.5 M-5,1 L5,1" stroke="#1a1a1a" stroke-width="0.9"/></g>
<g transform="translate(915.4,530.6) rotate(86)"><rect x="-6" y="-4" width="12" height="8" fill="#fff" stroke="#1a1a1a" stroke-width="1.1"/><path d="M-5,-1.5 L5,-1.5 M-5,1 L5,1" stroke="#1a1a1a" stroke-width="0.9"/></g>
<g transform="translate(856.3,483.0) rotate(8)"><path d="M-11,6 L-11,-5 C-11,-8 -9,-10 -6,-10 L6,-10 C9,-10 11,-8 11,-5 L11,6 C11,9 8,10 5,10 L-5,10 C-8,10 -11,9 -11,6Z" fill="#fff" stroke="#1a1a1a" stroke-width="1.6"/><path d="M-11,-1 C-5,1 5,1 11,-1 M-8,-10 L-9,-1 M8,-10 L9,-1" fill="none" stroke="#1a1a1a" stroke-width="1.2"/></g>
<g transform="translate(890.8,513.1) rotate(65)"><path d="M-11,6 L-11,-5 C-11,-8 -9,-10 -6,-10 L6,-10 C9,-10 11,-8 11,-5 L11,6 C11,9 8,10 5,10 L-5,10 C-8,10 -11,9 -11,6Z" fill="#fff" stroke="#1a1a1a" stroke-width="1.6"/><path d="M-11,-1 C-5,1 5,1 11,-1 M-8,-10 L-9,-1 M8,-10 L9,-1" fill="none" stroke="#1a1a1a" stroke-width="1.2"/></g>
<g transform="translate(889.0,562.0) rotate(120)"><path d="M-11,6 L-11,-5 C-11,-8 -9,-10 -6,-10 L6,-10 C9,-10 11,-8 11,-5 L11,6 C11,9 8,10 5,10 L-5,10 C-8,10 -11,9 -11,6Z" fill="#fff" stroke="#1a1a1a" stroke-width="1.6"/><path d="M-11,-1 C-5,1 5,1 11,-1 M-8,-10 L-9,-1 M8,-10 L9,-1" fill="none" stroke="#1a1a1a" stroke-width="1.2"/></g>
<g transform="translate(848.4,588.5) rotate(182)"><path d="M-11,6 L-11,-5 C-11,-8 -9,-10 -6,-10 L6,-10 C9,-10 11,-8 11,-5 L11,6 C11,9 8,10 5,10 L-5,10 C-8,10 -11,9 -11,6Z" fill="#fff" stroke="#1a1a1a" stroke-width="1.6"/><path d="M-11,-1 C-5,1 5,1 11,-1 M-8,-10 L-9,-1 M8,-10 L9,-1" fill="none" stroke="#1a1a1a" stroke-width="1.2"/></g>
<g transform="translate(809.2,557.9) rotate(245)"><path d="M-11,6 L-11,-5 C-11,-8 -9,-10 -6,-10 L6,-10 C9,-10 11,-8 11,-5 L11,6 C11,9 8,10 5,10 L-5,10 C-8,10 -11,9 -11,6Z" fill="#fff" stroke="#1a1a1a" stroke-width="1.6"/><path d="M-11,-1 C-5,1 5,1 11,-1 M-8,-10 L-9,-1 M8,-10 L9,-1" fill="none" stroke="#1a1a1a" stroke-width="1.2"/></g>
<g transform="translate(813.6,504.3) rotate(306)"><path d="M-11,6 L-11,-5 C-11,-8 -9,-10 -6,-10 L6,-10 C9,-10 11,-8 11,-5 L11,6 C11,9 8,10 5,10 L-5,10 C-8,10 -11,9 -11,6Z" fill="#fff" stroke="#1a1a1a" stroke-width="1.6"/><path d="M-11,-1 C-5,1 5,1 11,-1 M-8,-10 L-9,-1 M8,-10 L9,-1" fill="none" stroke="#1a1a1a" stroke-width="1.2"/></g>
<ellipse cx="850.0" cy="535.5" rx="36.0" ry="39.5" fill="none" stroke="#1a1a1a" stroke-width="1.3" />
<ellipse cx="850.0" cy="535.5" rx="32.0" ry="35.5" fill="none" stroke="#1a1a1a" stroke-width="2.2" />
<ellipse cx="850.0" cy="535.5" rx="26.0" ry="29.0" fill="none" stroke="#1a1a1a" stroke-width="1.3" />
<ellipse cx="850.0" cy="535.5" rx="22.0" ry="24.5" fill="none" stroke="#1a1a1a" stroke-width="2.6" />
<ellipse cx="850.0" cy="535.5" rx="16.0" ry="18.0" fill="none" stroke="#1a1a1a" stroke-width="1.4" />
<ellipse cx="850.0" cy="535.5" rx="11.0" ry="12.5" fill="none" stroke="#1a1a1a" stroke-width="1.6" />
<ellipse cx="850.0" cy="535.5" rx="7.5" ry="9.0" fill="none" stroke="#1a1a1a" stroke-width="1.3" />
<path d="M852,525.5 C847,529.5 847,541.5 852,545.5" fill="none" stroke="#1a1a1a" stroke-width="1.0" stroke-linejoin="round" stroke-linecap="round" />
<path d="M872.4,840.1 Q872.5,847.0 868.5,852.4 C856.5,849.7 850.8,851.6 847.8,857.0 C844.4,862.0 845.0,868.4 851.9,879.2 Q848.7,885.2 842.8,887.8 C833.7,879.0 827.9,877.6 822.9,880.6 C817.7,883.1 815.2,888.9 816.1,901.9 Q810.6,905.4 804.3,904.4 C800.6,892.0 796.3,887.6 790.6,887.5 C784.9,886.8 780.1,890.4 774.7,902.2 Q768.3,902.2 763.4,897.9 C765.9,885.1 764.3,879.0 759.4,875.8 C754.8,872.0 748.9,872.6 738.7,879.8 Q733.2,876.4 730.9,870.0 C739.1,860.3 740.5,854.0 737.8,848.5 C735.5,842.8 730.1,840.1 717.8,841.0 Q714.6,835.0 715.5,828.2 C727.2,824.1 731.3,819.4 731.5,813.1 C732.1,806.9 728.7,801.7 717.6,795.9 Q717.5,789.0 721.5,783.6 C733.5,786.3 739.2,784.4 742.2,779.0 C745.6,774.0 745.0,767.6 738.1,756.8 Q741.3,750.8 747.2,748.2 C756.3,757.0 762.1,758.4 767.1,755.4 C772.3,752.9 774.8,747.1 773.9,734.1 Q779.4,730.6 785.7,731.6 C789.4,744.0 793.7,748.4 799.4,748.5 C805.1,749.2 809.9,745.6 815.3,733.8 Q821.7,733.8 826.6,738.1 C824.1,750.9 825.7,757.0 830.6,760.2 C835.2,764.0 841.1,763.4 851.3,756.2 Q856.8,759.6 859.1,766.0 C850.9,775.7 849.5,782.0 852.2,787.5 C854.5,793.2 859.9,795.9 872.2,795.0 Q875.4,801.0 874.5,807.8 C862.8,811.9 858.7,816.6 858.5,822.9 C857.9,829.1 861.3,834.3 872.4,840.1Z" fill="#fff" stroke="#1a1a1a" stroke-width="1.1" stroke-linejoin="round" stroke-linecap="round" />
<path d="M875.4,839.1 Q875.5,846.0 871.5,851.4 C859.5,848.7 853.8,850.6 850.8,856.0 C847.4,861.0 848.0,867.4 854.9,878.2 Q851.7,884.2 845.8,886.8 C836.7,878.0 830.9,876.6 825.9,879.6 C820.7,882.1 818.2,887.9 819.1,900.9 Q813.6,904.4 807.3,903.4 C803.6,891.0 799.3,886.6 793.6,886.5 C787.9,885.8 783.1,889.4 777.7,901.2 Q771.3,901.2 766.4,896.9 C768.9,884.1 767.3,878.0 762.4,874.8 C757.8,871.0 751.9,871.6 741.7,878.8 Q736.2,875.4 733.9,869.0 C742.1,859.3 743.5,853.0 740.8,847.5 C738.5,841.8 733.1,839.1 720.8,840.0 Q717.6,834.0 718.5,827.2 C730.2,823.1 734.3,818.4 734.5,812.1 C735.1,805.9 731.7,800.7 720.6,794.9 Q720.5,788.0 724.5,782.6 C736.5,785.3 742.2,783.4 745.2,778.0 C748.6,773.0 748.0,766.6 741.1,755.8 Q744.3,749.8 750.2,747.2 C759.3,756.0 765.1,757.4 770.1,754.4 C775.3,751.9 777.8,746.1 776.9,733.1 Q782.4,729.6 788.7,730.6 C792.4,743.0 796.7,747.4 802.4,747.5 C808.1,748.2 812.9,744.6 818.3,732.8 Q824.7,732.8 829.6,737.1 C827.1,749.9 828.7,756.0 833.6,759.2 C838.2,763.0 844.1,762.4 854.3,755.2 Q859.8,758.6 862.1,765.0 C853.9,774.7 852.5,781.0 855.2,786.5 C857.5,792.2 862.9,794.9 875.2,794.0 Q878.4,800.0 877.5,806.8 C865.8,810.9 861.7,815.6 861.5,821.9 C860.9,828.1 864.3,833.3 875.4,839.1Z" fill="#fff" stroke="#1a1a1a" stroke-width="1.6" stroke-linejoin="round" stroke-linecap="round" />
<path d="M870.2,836.4 L865.9,850.1" fill="none" stroke="#1a1a1a" stroke-width="1.0" stroke-linejoin="round" stroke-linecap="round" />
<path d="M851.7,873.0 L841.6,882.6" fill="none" stroke="#1a1a1a" stroke-width="1.0" stroke-linejoin="round" stroke-linecap="round" />
<path d="M818.7,894.7 L805.6,897.5" fill="none" stroke="#1a1a1a" stroke-width="1.0" stroke-linejoin="round" stroke-linecap="round" />
<path d="M780.2,895.6 L767.6,890.8" fill="none" stroke="#1a1a1a" stroke-width="1.0" stroke-linejoin="round" stroke-linecap="round" />
<path d="M746.5,875.4 L737.7,864.4" fill="none" stroke="#1a1a1a" stroke-width="1.0" stroke-linejoin="round" stroke-linecap="round" />
<path d="M726.5,839.5 L724.0,825.2" fill="none" stroke="#1a1a1a" stroke-width="1.0" stroke-linejoin="round" stroke-linecap="round" />
<path d="M725.8,797.6 L730.1,783.9" fill="none" stroke="#1a1a1a" stroke-width="1.0" stroke-linejoin="round" stroke-linecap="round" />
<path d="M744.3,761.0 L754.4,751.4" fill="none" stroke="#1a1a1a" stroke-width="1.0" stroke-linejoin="round" stroke-linecap="round" />
<path d="M777.3,739.3 L790.4,736.5" fill="none" stroke="#1a1a1a" stroke-width="1.0" stroke-linejoin="round" stroke-linecap="round" />
<path d="M815.8,738.4 L828.4,743.2" fill="none" stroke="#1a1a1a" stroke-width="1.0" stroke-linejoin="round" stroke-linecap="round" />
<path d="M849.5,758.6 L858.3,769.6" fill="none" stroke="#1a1a1a" stroke-width="1.0" stroke-linejoin="round" stroke-linecap="round" />
<path d="M869.5,794.5 L872.0,808.8" fill="none" stroke="#1a1a1a" stroke-width="1.0" stroke-linejoin="round" stroke-linecap="round" />
<ellipse cx="798.0" cy="817.0" rx="68.0" ry="74.0" fill="none" stroke="#1a1a1a" stroke-width="1.0" />
<ellipse cx="797.0" cy="817.0" rx="56.0" ry="61.0" fill="none" stroke="#1a1a1a" stroke-width="1.2" />
<ellipse cx="796.5" cy="817.0" rx="44.0" ry="48.5" fill="none" stroke="#1a1a1a" stroke-width="1.0" />
<g transform="translate(848.6,853.9) rotate(126)"><rect x="-6" y="-4" width="12" height="8" fill="#fff" stroke="#1a1a1a" stroke-width="1.1"/><path d="M-5,-1.5 L5,-1.5 M-5,1 L5,1" stroke="#1a1a1a" stroke-width="0.9"/></g>
<g transform="translate(824.7,876.3) rotate(156)"><rect x="-6" y="-4" width="12" height="8" fill="#fff" stroke="#1a1a1a" stroke-width="1.1"/><path d="M-5,-1.5 L5,-1.5 M-5,1 L5,1" stroke="#1a1a1a" stroke-width="0.9"/></g>
<g transform="translate(793.7,882.8) rotate(184)"><rect x="-6" y="-4" width="12" height="8" fill="#fff" stroke="#1a1a1a" stroke-width="1.1"/><path d="M-5,-1.5 L5,-1.5 M-5,1 L5,1" stroke="#1a1a1a" stroke-width="0.9"/></g>
<g transform="translate(763.9,871.7) rotate(212)"><rect x="-6" y="-4" width="12" height="8" fill="#fff" stroke="#1a1a1a" stroke-width="1.1"/><path d="M-5,-1.5 L5,-1.5 M-5,1 L5,1" stroke="#1a1a1a" stroke-width="0.9"/></g>
<g transform="translate(743.2,845.9) rotate(242)"><rect x="-6" y="-4" width="12" height="8" fill="#fff" stroke="#1a1a1a" stroke-width="1.1"/><path d="M-5,-1.5 L5,-1.5 M-5,1 L5,1" stroke="#1a1a1a" stroke-width="0.9"/></g>
<g transform="translate(737.1,812.4) rotate(-86)"><rect x="-6" y="-4" width="12" height="8" fill="#fff" stroke="#1a1a1a" stroke-width="1.1"/><path d="M-5,-1.5 L5,-1.5 M-5,1 L5,1" stroke="#1a1a1a" stroke-width="0.9"/></g>
<g transform="translate(747.4,780.1) rotate(-54)"><rect x="-6" y="-4" width="12" height="8" fill="#fff" stroke="#1a1a1a" stroke-width="1.1"/><path d="M-5,-1.5 L5,-1.5 M-5,1 L5,1" stroke="#1a1a1a" stroke-width="0.9"/></g>
<g transform="translate(771.3,757.7) rotate(-24)"><rect x="-6" y="-4" width="12" height="8" fill="#fff" stroke="#1a1a1a" stroke-width="1.1"/><path d="M-5,-1.5 L5,-1.5 M-5,1 L5,1" stroke="#1a1a1a" stroke-width="0.9"/></g>
<g transform="translate(802.3,751.2) rotate(4)"><rect x="-6" y="-4" width="12" height="8" fill="#fff" stroke="#1a1a1a" stroke-width="1.1"/><path d="M-5,-1.5 L5,-1.5 M-5,1 L5,1" stroke="#1a1a1a" stroke-width="0.9"/></g>
<g transform="translate(832.1,762.3) rotate(32)"><rect x="-6" y="-4" width="12" height="8" fill="#fff" stroke="#1a1a1a" stroke-width="1.1"/><path d="M-5,-1.5 L5,-1.5 M-5,1 L5,1" stroke="#1a1a1a" stroke-width="0.9"/></g>
<g transform="translate(852.8,788.1) rotate(62)"><rect x="-6" y="-4" width="12" height="8" fill="#fff" stroke="#1a1a1a" stroke-width="1.1"/><path d="M-5,-1.5 L5,-1.5 M-5,1 L5,1" stroke="#1a1a1a" stroke-width="0.9"/></g>
<g transform="translate(858.9,821.6) rotate(94)"><rect x="-6" y="-4" width="12" height="8" fill="#fff" stroke="#1a1a1a" stroke-width="1.1"/><path d="M-5,-1.5 L5,-1.5 M-5,1 L5,1" stroke="#1a1a1a" stroke-width="0.9"/></g>
<g transform="translate(768.0,772.7) rotate(-32)"><path d="M-11,6 L-11,-5 C-11,-8 -9,-10 -6,-10 L6,-10 C9,-10 11,-8 11,-5 L11,6 C11,9 8,10 5,10 L-5,10 C-8,10 -11,9 -11,6Z" fill="#fff" stroke="#1a1a1a" stroke-width="1.6"/><path d="M-11,-1 C-5,1 5,1 11,-1 M-8,-10 L-9,-1 M8,-10 L9,-1" fill="none" stroke="#1a1a1a" stroke-width="1.2"/></g>
<g transform="translate(813.6,771.2) rotate(29)"><path d="M-11,6 L-11,-5 C-11,-8 -9,-10 -6,-10 L6,-10 C9,-10 11,-8 11,-5 L11,6 C11,9 8,10 5,10 L-5,10 C-8,10 -11,9 -11,6Z" fill="#fff" stroke="#1a1a1a" stroke-width="1.6"/><path d="M-11,-1 C-5,1 5,1 11,-1 M-8,-10 L-9,-1 M8,-10 L9,-1" fill="none" stroke="#1a1a1a" stroke-width="1.2"/></g>
<g transform="translate(836.6,813.0) rotate(85)"><path d="M-11,6 L-11,-5 C-11,-8 -9,-10 -6,-10 L6,-10 C9,-10 11,-8 11,-5 L11,6 C11,9 8,10 5,10 L-5,10 C-8,10 -11,9 -11,6Z" fill="#fff" stroke="#1a1a1a" stroke-width="1.6"/><path d="M-11,-1 C-5,1 5,1 11,-1 M-8,-10 L-9,-1 M8,-10 L9,-1" fill="none" stroke="#1a1a1a" stroke-width="1.2"/></g>
<g transform="translate(818.9,859.9) rotate(143)"><path d="M-11,6 L-11,-5 C-11,-8 -9,-10 -6,-10 L6,-10 C9,-10 11,-8 11,-5 L11,6 C11,9 8,10 5,10 L-5,10 C-8,10 -11,9 -11,6Z" fill="#fff" stroke="#1a1a1a" stroke-width="1.6"/><path d="M-11,-1 C-5,1 5,1 11,-1 M-8,-10 L-9,-1 M8,-10 L9,-1" fill="none" stroke="#1a1a1a" stroke-width="1.2"/></g>
<g transform="translate(773.5,866.0) rotate(204)"><path d="M-11,6 L-11,-5 C-11,-8 -9,-10 -6,-10 L6,-10 C9,-10 11,-8 11,-5 L11,6 C11,9 8,10 5,10 L-5,10 C-8,10 -11,9 -11,6Z" fill="#fff" stroke="#1a1a1a" stroke-width="1.6"/><path d="M-11,-1 C-5,1 5,1 11,-1 M-8,-10 L-9,-1 M8,-10 L9,-1" fill="none" stroke="#1a1a1a" stroke-width="1.2"/></g>
<g transform="translate(747.0,822.2) rotate(265)"><path d="M-11,6 L-11,-5 C-11,-8 -9,-10 -6,-10 L6,-10 C9,-10 11,-8 11,-5 L11,6 C11,9 8,10 5,10 L-5,10 C-8,10 -11,9 -11,6Z" fill="#fff" stroke="#1a1a1a" stroke-width="1.6"/><path d="M-11,-1 C-5,1 5,1 11,-1 M-8,-10 L-9,-1 M8,-10 L9,-1" fill="none" stroke="#1a1a1a" stroke-width="1.2"/></g>
<ellipse cx="791.8" cy="817.6" rx="36.0" ry="39.5" fill="none" stroke="#1a1a1a" stroke-width="1.3" />
<ellipse cx="791.8" cy="817.6" rx="32.0" ry="35.5" fill="none" stroke="#1a1a1a" stroke-width="2.2" />
<ellipse cx="791.8" cy="817.6" rx="26.0" ry="29.0" fill="none" stroke="#1a1a1a" stroke-width="1.3" />
<ellipse cx="791.8" cy="817.6" rx="22.0" ry="24.5" fill="none" stroke="#1a1a1a" stroke-width="2.6" />
<ellipse cx="791.8" cy="817.6" rx="16.0" ry="18.0" fill="none" stroke="#1a1a1a" stroke-width="1.4" />
<ellipse cx="791.8" cy="817.6" rx="11.0" ry="12.5" fill="none" stroke="#1a1a1a" stroke-width="1.6" />
<ellipse cx="791.8" cy="817.6" rx="7.5" ry="9.0" fill="none" stroke="#1a1a1a" stroke-width="1.3" />
<path d="M793.8,807.6 C788.8,811.6 788.8,823.6 793.8,827.6" fill="none" stroke="#1a1a1a" stroke-width="1.0" stroke-linejoin="round" stroke-linecap="round" />
<path d="M800,530 L905,541" fill="none" stroke="#1a1a1a" stroke-width="1.0" stroke-linejoin="round" stroke-linecap="round" />
<path d="M760,812 L820,822" fill="none" stroke="#1a1a1a" stroke-width="1.0" stroke-linejoin="round" stroke-linecap="round" />
<ellipse cx="734.0" cy="522.4" rx="28.1" ry="35.2" fill="#fff" stroke="#1a1a1a" stroke-width="1.4" />
<ellipse cx="731.8" cy="522.4" rx="28.1" ry="35.2" fill="none" stroke="#1a1a1a" stroke-width="1.0" />
<ellipse cx="729.6" cy="522.4" rx="28.1" ry="35.2" fill="none" stroke="#1a1a1a" stroke-width="1.0" />
<ellipse cx="727.5" cy="522.4" rx="28.1" ry="35.2" fill="#fff" stroke="#1a1a1a" stroke-width="1.5" />
<ellipse cx="728.0" cy="521.7" rx="7.5" ry="8.7" fill="none" stroke="#1a1a1a" stroke-width="1.5" />
<path d="M729,513.2 C723.875,517.7 723.875,525.7 729,530.2" fill="none" stroke="#1a1a1a" stroke-width="1.0" stroke-linejoin="round" stroke-linecap="round" />
<ellipse cx="980.7" cy="553.9" rx="29.1" ry="35.0" fill="#fff" stroke="#1a1a1a" stroke-width="1.4" />
<ellipse cx="982.6" cy="553.9" rx="29.1" ry="35.0" fill="none" stroke="#1a1a1a" stroke-width="1.0" />
<ellipse cx="984.5" cy="553.9" rx="29.1" ry="35.0" fill="none" stroke="#1a1a1a" stroke-width="1.0" />
<ellipse cx="986.3" cy="553.9" rx="29.1" ry="35.0" fill="#fff" stroke="#1a1a1a" stroke-width="1.5" />
<ellipse cx="985.8" cy="553.9" rx="16.9" ry="19.0" fill="none" stroke="#1a1a1a" stroke-width="1.5" />
<ellipse cx="984.8" cy="553.9" rx="10.3" ry="11.5" fill="none" stroke="#1a1a1a" stroke-width="1.8" />
<ellipse cx="984.3" cy="553.4" rx="6.8" ry="8.0" fill="none" stroke="#1a1a1a" stroke-width="1.3" />
<ellipse cx="674.7" cy="782.5" rx="28.4" ry="35.0" fill="#fff" stroke="#1a1a1a" stroke-width="1.4" />
<ellipse cx="672.4" cy="782.5" rx="28.4" ry="35.0" fill="none" stroke="#1a1a1a" stroke-width="1.0" />
<ellipse cx="670.1" cy="782.5" rx="28.4" ry="35.0" fill="none" stroke="#1a1a1a" stroke-width="1.0" />
<ellipse cx="667.8" cy="782.5" rx="28.4" ry="35.0" fill="#fff" stroke="#1a1a1a" stroke-width="1.5" />
<ellipse cx="668.4" cy="782.8" rx="9.0" ry="9.7" fill="none" stroke="#1a1a1a" stroke-width="1.5" />
<path d="M669.4,773.3 C663.4499999999999,778.8 663.4499999999999,786.8 669.4,792.3" fill="none" stroke="#1a1a1a" stroke-width="1.0" stroke-linejoin="round" stroke-linecap="round" />
<ellipse cx="924.4" cy="853.7" rx="29.0" ry="36.0" fill="#fff" stroke="#1a1a1a" stroke-width="1.4" />
<ellipse cx="926.3" cy="853.7" rx="29.0" ry="36.0" fill="none" stroke="#1a1a1a" stroke-width="1.0" />
<ellipse cx="928.2" cy="853.7" rx="29.0" ry="36.0" fill="none" stroke="#1a1a1a" stroke-width="1.0" />
<ellipse cx="930.0" cy="853.7" rx="29.0" ry="36.0" fill="#fff" stroke="#1a1a1a" stroke-width="1.5" />
<ellipse cx="928.5" cy="852.8" rx="16.9" ry="19.0" fill="none" stroke="#1a1a1a" stroke-width="1.5" />
<ellipse cx="927.5" cy="852.8" rx="10.3" ry="11.5" fill="none" stroke="#1a1a1a" stroke-width="1.8" />
<ellipse cx="927.0" cy="852.3" rx="6.8" ry="8.0" fill="none" stroke="#1a1a1a" stroke-width="1.3" />
<path d="M683,515.4 L690,515.6" fill="none" stroke="#1a1a1a" stroke-width="1.0" stroke-linejoin="round" stroke-linecap="round" />
<path d="M704.7,518 L727.8,522.6" fill="none" stroke="#1a1a1a" stroke-width="1.0" stroke-linejoin="round" stroke-linecap="round" />
<path d="M761,527 L781,530" fill="none" stroke="#1a1a1a" stroke-width="1.0" stroke-linejoin="round" stroke-linecap="round" />
<path d="M931.6,550 L947.5,553" fill="none" stroke="#1a1a1a" stroke-width="1.0" stroke-linejoin="round" stroke-linecap="round" />
<path d="M1027,563.5 L1052,567" fill="none" stroke="#1a1a1a" stroke-width="1.0" stroke-linejoin="round" stroke-linecap="round" />
<path d="M1081,570 L1106,574" fill="none" stroke="#1a1a1a" stroke-width="1.0" stroke-linejoin="round" stroke-linecap="round" />
<path d="M1139.6,579.6 L1160,581.7" fill="none" stroke="#1a1a1a" stroke-width="1.0" stroke-linejoin="round" stroke-linecap="round" />
<path d="M1187.5,585.8 L1214.6,590" fill="none" stroke="#1a1a1a" stroke-width="1.0" stroke-linejoin="round" stroke-linecap="round" />
<path d="M626,775.6 L653.75,782.5" fill="none" stroke="#1a1a1a" stroke-width="1.0" stroke-linejoin="round" stroke-linecap="round" />
<path d="M680.6,789.4 L708,796.25" fill="none" stroke="#1a1a1a" stroke-width="1.0" stroke-linejoin="round" stroke-linecap="round" />
<path d="M899,844.4 L922.8,849.5" fill="none" stroke="#1a1a1a" stroke-width="1.0" stroke-linejoin="round" stroke-linecap="round" />
<path d="M953,858 L980,866" fill="none" stroke="#1a1a1a" stroke-width="1.0" stroke-linejoin="round" stroke-linecap="round" />
<path d="M596.9,758 L612.5,759.4 C614.5,761 614.5,765 613.75,767.5 C613,771 611,775 608.75,776.25 L597.5,775" fill="#fff" stroke="#1a1a1a" stroke-width="1.2" stroke-linejoin="round" stroke-linecap="round" />
<ellipse cx="587.6" cy="766.0" rx="12.5" ry="13.4" fill="#fff" stroke="#1a1a1a" stroke-width="1.3" />
<ellipse cx="585.6" cy="766.0" rx="12.5" ry="13.4" fill="#fff" stroke="#1a1a1a" stroke-width="1.5" />
<ellipse cx="585.6" cy="766.0" rx="10.5" ry="11.4" fill="none" stroke="#1a1a1a" stroke-width="0.9" />
<ellipse cx="584.4" cy="765.6" rx="4.7" ry="5.0" fill="none" stroke="#1a1a1a" stroke-width="1.3" />
<path d="M571.9,761.25 L598.75,768.75" fill="none" stroke="#1a1a1a" stroke-width="1.0" stroke-linejoin="round" stroke-linecap="round" />
<path d="M1251,586.9 L1229,585.8 C1225.5,586 1224,589 1224,592.5 C1224,596 1225.5,598.6 1229,598.8 L1251,601.3" fill="#fff" stroke="#1a1a1a" stroke-width="1.3" stroke-linejoin="round" stroke-linecap="round" />
<path d="M1227.5,586.5 C1230,589 1230,596 1227.5,598.5 M1230,586 C1232.5,589 1232.5,596 1230,598.8" fill="none" stroke="#1a1a1a" stroke-width="1.0" stroke-linejoin="round" stroke-linecap="round" />
<path d="M1251.5,586.5 C1254,582 1258,581 1262,581.2 C1268,581.5 1272,585 1273.5,592 C1274.5,599 1272,606 1266,608.5 C1262,609.5 1257,609 1254,606 C1252.5,604.5 1251.5,603 1251,601.3" fill="#fff" stroke="#1a1a1a" stroke-width="1.6" stroke-linejoin="round" stroke-linecap="round" />
<path d="M1251,586.9 L1259,587.5 C1263,589 1264.5,593 1264.5,595 C1264.5,598 1262.5,601 1258.5,602.5 L1251,601.3" fill="none" stroke="#1a1a1a" stroke-width="1.4" stroke-linejoin="round" stroke-linecap="round" />
<path d="M1259,587.5 L1262.5,581.5 M1258.5,602.5 L1260,608.8" fill="none" stroke="#1a1a1a" stroke-width="1.0" stroke-linejoin="round" stroke-linecap="round" />
<path d="M1110.6,568 C1114,562 1119,558 1126,556.5 C1133,555 1140,555 1146.3,555.2 C1152,556 1158,557 1164.2,559 C1171,562 1177,565 1182,568 C1188,573 1192,578 1194.8,583.3 C1198,589 1201,595 1202.5,601.1 C1205,608 1206,615 1206.3,621.5 C1206.5,629 1206,636 1205,642 C1204,648 1202,653 1200,657.3 C1197,664 1195,671 1192.3,677.7 C1189,685 1186,692 1182,698.1 C1178,704 1174,709 1169.3,713.4 C1165,718 1161,721 1156.5,723.6 C1153,726 1150,727.5 1146.3,728.7 L1141.2,733.8 L1138.7,746.6 L1131,774.7 L1129.6,782 C1135,787 1138,795 1140.5,803.8 C1142.5,811 1143.3,818 1143.2,823.8 L1142.3,851.2 L1135,858.5 L1127.7,862 L1135,895 L1135,900.4 C1125,905 1110,910 1087.6,916.8 C1072,921 1062,924 1051,925 L1005.6,927.7 L974.6,926 C968,923 964,920 963.6,916.8 L962.7,904 C963,901 965,899 967.3,898.6 L978.2,895 L987.3,891.3 L1014.7,864 L1047.5,840.2 C1050,837 1052,834 1054.8,831 C1057,825 1059,819 1062,814.7 C1064,808 1066,805 1069.4,802 C1074,800 1076,798 1078.5,796.5 C1082,793 1084,790 1085.8,787.3 L1086.7,780 L1119.5,613.9 L1118.3,603.7 C1115,597 1112,590 1110.6,583.3 Z" fill="none" stroke="#1a1a1a" stroke-width="1.5" stroke-linejoin="round" stroke-linecap="round" />
<ellipse cx="1132.8" cy="582.0" rx="6.8" ry="7.7" fill="none" stroke="#1a1a1a" stroke-width="1.3" />
<path d="M1136.7,629.8 L1171.9,612.2 C1176,611 1178.6,614 1178.6,617.6 L1178,636 L1174.6,656.9 L1167.8,675.8 C1166,679 1164,680.5 1162.4,681.2 L1128.5,698.8 C1125,699.5 1123,696 1123.1,693.4 L1123.1,689.3 L1133.5,636 C1134,633 1135,631 1136.7,629.8 Z" fill="none" stroke="#1a1a1a" stroke-width="1.4" stroke-linejoin="round" stroke-linecap="round" />
<path d="M1125.8,692 L1137.5,635 C1139,632 1141,631.5 1144,630.3 L1172,616.3" fill="none" stroke="#1a1a1a" stroke-width="1.0" stroke-linejoin="round" stroke-linecap="round" />
<path d="M1167.8,674.5 L1188,666.3" fill="none" stroke="#1a1a1a" stroke-width="1.0" stroke-linejoin="round" stroke-linecap="round" />
<path d="M1138,713.7 L1142,702.9 L1166.4,698.8 L1167.8,708.3 L1163.7,717.8 L1142,720.5 Z" fill="none" stroke="#1a1a1a" stroke-width="1.3" stroke-linejoin="round" stroke-linecap="round" />
<path d="M1142,710 C1146,704 1158,701 1163,705 C1162,713 1150,717 1143,716 Z" fill="none" stroke="#1a1a1a" stroke-width="1.1" stroke-linejoin="round" stroke-linecap="round" />
<path d="M1156.5,562.9 C1168,567 1180,575 1187.2,585.8 C1193,596 1196,604 1197.4,611.3 C1200,622 1200.5,632 1200,642 C1198,651 1195,658 1192.3,665 C1189,672 1186,678 1182,682.8 C1176,690 1170,694 1164.2,698.1" fill="none" stroke="#1a1a1a" stroke-width="1.0" stroke-linejoin="round" stroke-linecap="round" />
<path d="M1192,677 L1197,683 M1186,664 L1192.3,665" fill="none" stroke="#1a1a1a" stroke-width="1.0" stroke-linejoin="round" stroke-linecap="round" />
<path d="M1156.5,560.5 L1171.5,566 L1170,570 L1156,565 Z M1161,562 L1160,566.5 M1165.5,563.8 L1164.5,568.2" fill="none" stroke="#1a1a1a" stroke-width="1.1" stroke-linejoin="round" stroke-linecap="round" />
<path d="M1138.7,746.6 L1133,745 L1126,787 M1136,736 L1131,746" fill="none" stroke="#1a1a1a" stroke-width="1.0" stroke-linejoin="round" stroke-linecap="round" />
<path d="M1087.6,781.9 C1095,782 1101,783 1105.9,783.7 C1112,787 1117,790 1120.4,794.6 C1125,801 1128,808 1129.6,814.7 C1131,822 1131.5,830 1131.4,836.6 C1130,845 1127,852 1124,858.5 C1119,864 1114,868 1109.5,871.2 L1098.6,874.9" fill="none" stroke="#1a1a1a" stroke-width="1.2" stroke-linejoin="round" stroke-linecap="round" />
<path d="M1045.7,842 C1047,847 1049,851 1051.2,854.8 L1058.4,865.7 M1048,841 C1050,846 1052,850 1054,853.5 L1060,864" fill="none" stroke="#1a1a1a" stroke-width="1.1" stroke-linejoin="round" stroke-linecap="round" />
<path d="M1124,786 C1131,793 1136,805 1138,818 L1138,850 L1131,856.5 M1127,789 C1133,797 1135.5,808 1136,820" fill="none" stroke="#1a1a1a" stroke-width="1.1" stroke-linejoin="round" stroke-linecap="round" />
<ellipse cx="1089.4" cy="830.2" rx="17.8" ry="20.5" fill="none" stroke="#1a1a1a" stroke-width="1.5" />
<path d="M1083,811 C1074,816 1071,826 1072,835 C1073,843 1077,848 1084,850" fill="none" stroke="#1a1a1a" stroke-width="1.2" stroke-linejoin="round" stroke-linecap="round" />
<path d="M1023.8,884 L1058.4,864.8 L1094.9,866.7 L1100.4,894.9 L1091.3,900.4 L1029.3,902.2 C1022,900 1020,897 1020.2,894.9 C1020,890 1021,887 1023.8,884 Z" fill="none" stroke="#1a1a1a" stroke-width="1.4" stroke-linejoin="round" stroke-linecap="round" />
<path d="M1027,887 L1059,868.5 L1093,870.5" fill="none" stroke="#1a1a1a" stroke-width="1.0" stroke-linejoin="round" stroke-linecap="round" />
<path d="M971,896.7 L978.2,924 M980,895 L989,924 M991,893 L1003.8,924" fill="none" stroke="#1a1a1a" stroke-width="1.0" stroke-linejoin="round" stroke-linecap="round" />
<path d="M980,922.5 L1120,903 M1128,865 L1133,893" fill="none" stroke="#1a1a1a" stroke-width="0.9" stroke-linejoin="round" stroke-linecap="round" />
<path d="M98.7,677 C100,668 104,664 108.8,661.2 C120,652 133,645 147.8,639.6 C168,631 188,625 205.6,622.2 L249,623.7 C256,626 261,630 263.4,636.7 C265,642 266,647 265.6,651.1 L260.5,675.7 C258,681 255.5,685 251.9,687.3 L203,721.8 C192,727 183,733 175.3,739.6 C168,745 164,750 161.4,755.4 C157,762 155,767 153.5,773.2 C151,780 150.5,786 150.5,793 C150.5,800 151,806 152.5,812.8 C154,819 156,825 159.5,830.6 C163,837 168,844 173.3,848.4 C178,852 183,854 189.1,856.3 C195,858 200,859 205,860.2 C208,861 209,862 209,864.2 L210,882 C209,885 207,886 205,886 C170,870 130,855 99.7,848.6 C92,846 87,843 81.5,842.6 L18,839.5 C13,838 10,836 9,833.5 L7.5,797 C8,793 11,791 15,789.7 L90.6,736.8 C94,733 96,729 96.6,724.8 L99.7,673.4 Z" fill="none" stroke="#1a1a1a" stroke-width="1.5" stroke-linejoin="round" stroke-linecap="round" />
<path d="M101.5,677 C103,669 106.5,665.5 110.5,663.3 C122,654.5 135,647.5 149,642.3 C169,634 189,628 206,625.2 L248.5,626.7 C254.5,629 258.5,632.5 260.5,638 C262,643 263,647 262.6,651 L257.7,674.5 C255.5,679 253.5,682.5 250.3,684.7" fill="none" stroke="#1a1a1a" stroke-width="0.9" stroke-linejoin="round" stroke-linecap="round" />
<path d="M94,733 L91.8,738.6 L16,791.7 C12.5,793 10,795 9.7,798 L11,832.5 C12,835 14.5,836.6 18,837.3 L81.5,840.4 C87,841 92,843.5 99.7,846.3 C130,852.5 170,866 205,883" fill="none" stroke="#1a1a1a" stroke-width="0.9" stroke-linejoin="round" stroke-linecap="round" />
<path d="M129.0,680.8 C134.6,677.8 149.5,667.7 162.3,662.7 C175.1,657.8 190.4,652.4 205.6,651.1 C220.8,649.8 245.4,654.1 253.3,654.7" fill="none" stroke="#1a1a1a" stroke-width="4.4" stroke-linejoin="round" stroke-linecap="round" />
<path d="M129.0,680.8 C134.6,677.8 149.5,667.7 162.3,662.7 C175.1,657.8 190.4,652.4 205.6,651.1 C220.8,649.8 245.4,654.1 253.3,654.7" fill="none" stroke="#fff" stroke-width="2.0" stroke-linejoin="round" stroke-linecap="round" />
<path d="M129.0,698.8 C134.6,695.4 149.5,684.0 162.3,678.6 C175.1,673.2 191.0,667.9 205.6,666.3 C220.2,664.7 242.3,668.7 249.7,669.2" fill="none" stroke="#1a1a1a" stroke-width="4.4" stroke-linejoin="round" stroke-linecap="round" />
<path d="M129.0,698.8 C134.6,695.4 149.5,684.0 162.3,678.6 C175.1,673.2 191.0,667.9 205.6,666.3 C220.2,664.7 242.3,668.7 249.7,669.2" fill="none" stroke="#fff" stroke-width="2.0" stroke-linejoin="round" stroke-linecap="round" />
<path d="M129.0,725.6 C134.6,720.9 149.5,704.5 162.3,697.4 C175.1,690.3 191.8,684.9 205.6,683.0 C219.4,681.1 238.8,685.3 245.4,685.8" fill="none" stroke="#1a1a1a" stroke-width="4.4" stroke-linejoin="round" stroke-linecap="round" />
<path d="M129.0,725.6 C134.6,720.9 149.5,704.5 162.3,697.4 C175.1,690.3 191.8,684.9 205.6,683.0 C219.4,681.1 238.8,685.3 245.4,685.8" fill="none" stroke="#fff" stroke-width="2.0" stroke-linejoin="round" stroke-linecap="round" />
<ellipse cx="167.4" cy="718.8" rx="12.9" ry="12.9" fill="none" stroke="#1a1a1a" stroke-width="1.5" />
<path d="M169.3,734.6 C180,731 192,726 203,721.8 M185.2,711.9 L193,708.9 L197,710.9 L203,719.8" fill="none" stroke="#1a1a1a" stroke-width="1.3" stroke-linejoin="round" stroke-linecap="round" />
<path d="M147.6,725.7 C138,735 133,742 129.8,749.5 C125,760 122.5,770 121.9,779 C120.5,788 120.5,796 120.9,802.9 C121.5,811 123,819 125.8,826.6 C129,836 133,843 137.7,850.3 C144,858 151,864 159.5,870 C170,876 180,879 189,882 L205,886" fill="none" stroke="#1a1a1a" stroke-width="1.3" stroke-linejoin="round" stroke-linecap="round" />
<path d="M151.5,729.7 C143,738 139,745 135.7,753.4 C131,763 129,771 128.8,779 C127,788 127,797 127.5,804 C128,812 130,820 132.5,827 C136,836 140,843 145,849 C150,856 156,861 163,865 C172,870 182,874 192,877 L207,881" fill="none" stroke="#1a1a1a" stroke-width="1.0" stroke-linejoin="round" stroke-linecap="round" />
<path d="M147.6,725.7 C150,723 152,723 154,724 L151.5,729.7" fill="none" stroke="#1a1a1a" stroke-width="1.0" stroke-linejoin="round" stroke-linecap="round" />
<path d="M149.6,731.0 C150.1,732.8 152.2,738.3 152.8,742.0 C153.4,745.7 153.2,749.5 153.0,753.0 C152.8,756.5 152.7,760.4 151.5,763.0 C150.3,765.6 148.9,767.1 145.6,768.5 C142.3,769.9 134.1,770.8 131.8,771.2" fill="none" stroke="#1a1a1a" stroke-width="1.3" stroke-linejoin="round" stroke-linecap="round" />
<path d="M131.8,771.2 C131.5,772.2 129.3,774.7 130.0,777.0 C130.7,779.3 133.6,782.5 135.7,785.0 C137.8,787.5 141.2,789.3 142.6,792.0 C144.0,794.7 144.3,798.0 144.0,801.0 C143.7,804.0 142.5,807.4 140.5,810.0 C138.5,812.6 133.2,815.6 131.8,816.7" fill="none" stroke="#1a1a1a" stroke-width="1.3" stroke-linejoin="round" stroke-linecap="round" />
<path d="M131.8,816.7 C132.8,817.8 135.1,821.7 138.0,823.5 C140.9,825.3 145.9,825.6 149.0,827.5 C152.1,829.4 155.0,832.1 156.5,835.0 C158.0,837.9 158.0,842.1 158.0,845.0 C158.0,847.9 155.9,850.1 156.5,852.3 C157.1,854.5 160.6,857.3 161.4,858.3" fill="none" stroke="#1a1a1a" stroke-width="1.3" stroke-linejoin="round" stroke-linecap="round" />
<path d="M161.4,858.3 C162.8,857.8 166.9,855.9 170.0,855.5 C173.1,855.1 176.9,855.2 180.0,856.0 C183.1,856.8 186.4,858.0 188.5,860.0 C190.6,862.0 191.2,865.7 192.5,868.0 C193.8,870.3 195.4,873.0 196.0,874.0" fill="none" stroke="#1a1a1a" stroke-width="1.3" stroke-linejoin="round" stroke-linecap="round" />
<rect x="92" y="746" width="27" height="9" rx="4.5" fill="none" stroke="#1a1a1a" stroke-width="1.3" transform="rotate(-2 92 746)"/>
<rect x="95" y="748.5" width="21" height="4" rx="2.0" fill="none" stroke="#1a1a1a" stroke-width="0.9" transform="rotate(-2 92 746)"/>
<rect x="71" y="759.5" width="42" height="10.5" rx="5.25" fill="none" stroke="#1a1a1a" stroke-width="1.3" transform="rotate(-2 71 759.5)"/>
<rect x="74" y="762.0" width="36" height="5.5" rx="2.75" fill="none" stroke="#1a1a1a" stroke-width="0.9" transform="rotate(-2 71 759.5)"/>
<rect x="51" y="774.6" width="59" height="10.5" rx="5.25" fill="none" stroke="#1a1a1a" stroke-width="1.3" transform="rotate(-2 51 774.6)"/>
<rect x="54" y="777.1" width="53" height="5.5" rx="2.75" fill="none" stroke="#1a1a1a" stroke-width="0.9" transform="rotate(-2 51 774.6)"/>
<text x="105.5" y="684" font-size="16" font-weight="bold" fill="#fff" stroke="#1a1a1a" stroke-width="1.1" letter-spacing="-0.5">26</text>
<text x="105.5" y="705" font-size="16" font-weight="bold" fill="#fff" stroke="#1a1a1a" stroke-width="1.1" letter-spacing="-0.5">28</text>
<text x="105.5" y="726" font-size="16" font-weight="bold" fill="#fff" stroke="#1a1a1a" stroke-width="1.1" letter-spacing="-0.5">33</text>
<text x="20" y="810.5" font-size="18" font-weight="bold" font-style="italic" fill="#fff" stroke="#1a1a1a" stroke-width="1.2" textLength="89.5" lengthAdjust="spacingAndGlyphs">SRAM</text>
<text x="19.5" y="826" font-size="10" font-weight="bold" fill="#fff" stroke="#1a1a1a" stroke-width="0.9" textLength="87" lengthAdjust="spacingAndGlyphs">12 SPEED B-CAP</text>
<g><path d="M301.7,272.6 L301.7,278.3 L308.6,279.5 L309.7,288.7 L317.7,292.1 L322.3,291 L325.8,280.6 L329.2,276 M301.7,272.6 C302,270 304,270 305,270.3 L322.3,272.6 L340.7,277.2" fill="none" stroke="#a6a6a6" stroke-width="1.0" stroke-linejoin="round" stroke-linecap="round" />
<path d="M338.75,276.7 L399.2,265 L420,261 L455,255.5 L489.4,255.5" fill="none" stroke="#a6a6a6" stroke-width="1.3" stroke-linejoin="round" stroke-linecap="round" />
<path d="M489.4,255.5 C500,257 505,261 508,265.6 C512,272 514,280 513.6,287.5 C513,296 511,303 508,309.4 C503,315 499,318 494,318.75 L486.25,318.75" fill="none" stroke="#a6a6a6" stroke-width="1.0" stroke-linejoin="round" stroke-linecap="round" />
<ellipse cx="457.3" cy="288.3" rx="30.5" ry="28.9" fill="none" stroke="#a6a6a6" stroke-width="1.0" />
<ellipse cx="457.3" cy="288.3" rx="25.7" ry="25.8" fill="none" stroke="#a6a6a6" stroke-width="1.0" />
<ellipse cx="458.0" cy="287.5" rx="20.3" ry="21.9" fill="none" stroke="#a6a6a6" stroke-width="1.3" />
<path d="M439.4,282 L462.8,282 M462.8,279.7 C458,286 460,298 467.5,304.7 M462.8,279.7 C465,272 470,268 474,267" fill="none" stroke="#a6a6a6" stroke-width="1.0" stroke-linejoin="round" stroke-linecap="round" />
<path d="M328.3,276.7 L320,301.7 L308.6,340.3 L283.3,397.6 L276.5,416 L275.3,434.3 C277,440 280,442 283.3,443.5 L301.7,450.4" fill="none" stroke="#a6a6a6" stroke-width="1.0" stroke-linejoin="round" stroke-linecap="round" />
<path d="M308.6,340.3 L361.7,318.3 M338.75,278.75 L380.4,296.5 L420,305.8 L431.6,311" fill="none" stroke="#a6a6a6" stroke-width="1.0" stroke-linejoin="round" stroke-linecap="round" />
<path d="M399.2,265.2 L372,294.4 L347,324.6 L320,358 L293.3,395.8" fill="none" stroke="#a6a6a6" stroke-width="1.2" stroke-linejoin="round" stroke-linecap="round" />
<path d="M426.9,278 C415,281 402,287 386.7,294.4 C377,302 370,309 363.75,316.25 L328.3,360 L313,380" fill="none" stroke="#a6a6a6" stroke-width="1.0" stroke-linejoin="round" stroke-linecap="round" />
<path d="M426.9,282 C415,285 401,291 388.75,299 C380,306 374,312 366,319 L332.5,360 L317,381" fill="none" stroke="#a6a6a6" stroke-width="1.0" stroke-linejoin="round" stroke-linecap="round" />
<path d="M361.7,318.3 L337.7,348 L337.7,360 L322,382" fill="none" stroke="#a6a6a6" stroke-width="1.0" stroke-linejoin="round" stroke-linecap="round" />
<path d="M403,311.5 L390.8,311 C387,313 385,314 382.5,316.25 L372,331.9 L356.5,360 L338,382 C336,385 337,387 340.7,388.4" fill="none" stroke="#a6a6a6" stroke-width="1.0" stroke-linejoin="round" stroke-linecap="round" />
<path d="M399.2,312 L374,333 L348,360 L333.8,377" fill="none" stroke="#a6a6a6" stroke-width="1.0" stroke-linejoin="round" stroke-linecap="round" />
<path d="M408,311 L455,317.2 L486.25,318.75" fill="none" stroke="#a6a6a6" stroke-width="1.0" stroke-linejoin="round" stroke-linecap="round" />
<path d="M403.4,314 L409.7,346.9 M414.4,315.6 L411.25,321.9 L405,322.7 M430,317.2 L431.6,323.4 L411.25,348.4 M443.4,320.3 L443.4,336 L438.75,346.9 L431,356.25" fill="none" stroke="#a6a6a6" stroke-width="1.0" stroke-linejoin="round" stroke-linecap="round" />
<path d="M420,337.5 L435.6,320.3" fill="none" stroke="#a6a6a6" stroke-width="1.0" stroke-linejoin="round" stroke-linecap="round" />
<ellipse cx="436.4" cy="328.9" rx="3.5" ry="5.5" fill="none" stroke="#a6a6a6" stroke-width="1.0" />
<path d="M375.3,332.8 L420,353 L463.75,360.2 M377,336 L420,359.4 L435.6,365.6 L440.3,357.8" fill="none" stroke="#a6a6a6" stroke-width="1.0" stroke-linejoin="round" stroke-linecap="round" />
<path d="M334.7,379.7 L420,375 L482.5,362.5 L507.5,361 L513.75,362.5 C525,370 537,380 548,389" fill="none" stroke="#a6a6a6" stroke-width="1.1" stroke-linejoin="round" stroke-linecap="round" />
<path d="M345.6,381.25 L420,384.4 C430,380 440,376 451.25,373.4 C462,370 472,367 482.5,365.6 L507.5,362.5" fill="none" stroke="#a6a6a6" stroke-width="1.0" stroke-linejoin="round" stroke-linecap="round" />
<path d="M345.6,381.25 L408,400 M408,400 C412,393 416,388 420,384.4" fill="none" stroke="#a6a6a6" stroke-width="1.0" stroke-linejoin="round" stroke-linecap="round" />
<path d="M501.9,400 C503,393 506,389 509.7,386" fill="none" stroke="#a6a6a6" stroke-width="1.0" stroke-linejoin="round" stroke-linecap="round" />
<path d="M281,404.5 L317.7,393 L340.7,397.6 M317.7,393 L305,420 L300,445 M288,420 L300,440" fill="none" stroke="#a6a6a6" stroke-width="1.0" stroke-linejoin="round" stroke-linecap="round" />
<ellipse cx="332.7" cy="412.5" rx="12.5" ry="10.0" fill="none" stroke="#a6a6a6" stroke-width="1.2" transform="rotate(30 332.7 412.5)" />
<ellipse cx="319.4" cy="433.0" rx="10.0" ry="6.5" fill="none" stroke="#a6a6a6" stroke-width="1.2" transform="rotate(-15 319.4 433)" />
<path d="M390.3,340 L420,353 M409.2,346.9 L436.7,357.2" fill="none" stroke="#a6a6a6" stroke-width="1.0" stroke-linejoin="round" stroke-linecap="round" />
<path d="M353.3,402.5 L413.3,409.2 L453.3,428.3 L480,445 L493.3,456.7" fill="none" stroke="#a6a6a6" stroke-width="1.0" stroke-linejoin="round" stroke-linecap="round" />
<path d="M358.3,413.3 L411.7,425 L461.7,448.3 L470,456.7" fill="none" stroke="#a6a6a6" stroke-width="1.0" stroke-linejoin="round" stroke-linecap="round" />
<path d="M340,380 L403.3,400 L436.7,413.3 L486.7,446.7" fill="none" stroke="#a6a6a6" stroke-width="1.0" stroke-linejoin="round" stroke-linecap="round" />
<path d="M378.3,391.7 C390,384 400,380 411.7,378.3" fill="none" stroke="#a6a6a6" stroke-width="1.0" stroke-linejoin="round" stroke-linecap="round" />
<path d="M335.9,370 L332.3,380.6 L339.4,386 L353.3,402.5 M345,412 L358.3,413.3" fill="none" stroke="#a6a6a6" stroke-width="1.0" stroke-linejoin="round" stroke-linecap="round" />
<ellipse cx="480.8" cy="465.0" rx="14.0" ry="13.3" fill="none" stroke="#a6a6a6" stroke-width="1.2" />
<ellipse cx="480.8" cy="464.8" rx="9.0" ry="8.0" fill="none" stroke="#a6a6a6" stroke-width="1.2" />
<ellipse cx="481.0" cy="465.0" rx="5.0" ry="4.5" fill="none" stroke="#a6a6a6" stroke-width="2" />
<ellipse cx="478.3" cy="515.0" rx="15.0" ry="12.5" fill="none" stroke="#a6a6a6" stroke-width="1.2" />
<ellipse cx="478.3" cy="515.5" rx="10.0" ry="8.5" fill="none" stroke="#a6a6a6" stroke-width="1.2" />
<ellipse cx="478.5" cy="516.0" rx="5.5" ry="5.0" fill="none" stroke="#a6a6a6" stroke-width="2" />
<ellipse cx="512.5" cy="469.1" rx="6.0" ry="5.5" fill="none" stroke="#a6a6a6" stroke-width="1.2" />
<ellipse cx="512.5" cy="469.1" rx="3.0" ry="2.8" fill="none" stroke="#a6a6a6" stroke-width="1.2" />
<ellipse cx="557.5" cy="531.9" rx="6.0" ry="5.0" fill="none" stroke="#a6a6a6" stroke-width="1.2" />
<path d="M370,453.3 L420,471.7 L465,493.3 M370,485 L420,500 L461.7,508.3 M366.7,463.3 L461.7,496.7" fill="none" stroke="#a6a6a6" stroke-width="1.0" stroke-linejoin="round" stroke-linecap="round" />
<path d="M375,463.3 L370,486.7 M446.7,501.7 L451.7,490" fill="none" stroke="#a6a6a6" stroke-width="1.0" stroke-linejoin="round" stroke-linecap="round" />
<path d="M416.7,470 C420,460 428,450 436.7,445 C442,443 448,446 453.3,455" fill="none" stroke="#a6a6a6" stroke-width="1.0" stroke-linejoin="round" stroke-linecap="round" />
<path d="M418.75,468.1 C422,462 426,457 430,455 C440,452 448,451 456.3,451.3" fill="none" stroke="#a6a6a6" stroke-width="1.0" stroke-linejoin="round" stroke-linecap="round" />
<path d="M493.8,524.4 L553.8,535.6 M503.1,481.3 L505,522.5" fill="none" stroke="#a6a6a6" stroke-width="1.0" stroke-linejoin="round" stroke-linecap="round" />
<path d="M490,444.8 C495,450 498,455 499,460 M467,489 C475,480 495,478 505,481" fill="none" stroke="#a6a6a6" stroke-width="1.0" stroke-linejoin="round" stroke-linecap="round" />
<path d="M334.7,379.7 L420,375 L482.5,362.5 L507.5,361 L513.75,362.5 C525,370 537,380 548,389" fill="none" stroke="#a6a6a6" stroke-width="1.1" stroke-linejoin="round" stroke-linecap="round" />
<path d="M345.6,381.25 L420,384.4 C430,380 440,376 451.25,373.4 C462,370 472,367 482.5,365.6 L507.5,362.5" fill="none" stroke="#a6a6a6" stroke-width="1.0" stroke-linejoin="round" stroke-linecap="round" />
<path d="M345.6,381.25 L408,400 M408,400 C412,393 416,388 420,384.4" fill="none" stroke="#a6a6a6" stroke-width="1.0" stroke-linejoin="round" stroke-linecap="round" />
<path d="M501.9,400 C503,393 506,389 509.7,386" fill="none" stroke="#a6a6a6" stroke-width="1.0" stroke-linejoin="round" stroke-linecap="round" />
<path d="M281,404.5 L317.7,393 L340.7,397.6 M317.7,393 L305,420 L300,445 M288,420 L300,440" fill="none" stroke="#a6a6a6" stroke-width="1.0" stroke-linejoin="round" stroke-linecap="round" />
<ellipse cx="332.7" cy="412.5" rx="12.5" ry="10.0" fill="none" stroke="#a6a6a6" stroke-width="1.2" transform="rotate(30 332.7 412.5)" />
<ellipse cx="319.4" cy="433.0" rx="10.0" ry="6.5" fill="none" stroke="#a6a6a6" stroke-width="1.2" transform="rotate(-15 319.4 433)" />
<path d="M390.3,340 L420,353 M409.2,346.9 L436.7,357.2" fill="none" stroke="#a6a6a6" stroke-width="1.0" stroke-linejoin="round" stroke-linecap="round" />
<path d="M353.3,402.5 L413.3,409.2 L453.3,428.3 L480,445 L493.3,456.7" fill="none" stroke="#a6a6a6" stroke-width="1.0" stroke-linejoin="round" stroke-linecap="round" />
<path d="M358.3,413.3 L411.7,425 L461.7,448.3 L470,456.7" fill="none" stroke="#a6a6a6" stroke-width="1.0" stroke-linejoin="round" stroke-linecap="round" />
<path d="M340,380 L403.3,400 L436.7,413.3 L486.7,446.7" fill="none" stroke="#a6a6a6" stroke-width="1.0" stroke-linejoin="round" stroke-linecap="round" />
<path d="M378.3,391.7 C390,384 400,380 411.7,378.3" fill="none" stroke="#a6a6a6" stroke-width="1.0" stroke-linejoin="round" stroke-linecap="round" />
<path d="M335.9,370 L332.3,380.6 L339.4,386 L353.3,402.5 M345,412 L358.3,413.3" fill="none" stroke="#a6a6a6" stroke-width="1.0" stroke-linejoin="round" stroke-linecap="round" />
<ellipse cx="480.8" cy="465.0" rx="14.0" ry="13.3" fill="none" stroke="#a6a6a6" stroke-width="1.2" />
<ellipse cx="480.8" cy="464.8" rx="9.0" ry="8.0" fill="none" stroke="#a6a6a6" stroke-width="1.2" />
<ellipse cx="481.0" cy="465.0" rx="5.0" ry="4.5" fill="none" stroke="#a6a6a6" stroke-width="2" />
<ellipse cx="478.3" cy="515.0" rx="15.0" ry="12.5" fill="none" stroke="#a6a6a6" stroke-width="1.2" />
<ellipse cx="478.3" cy="515.5" rx="10.0" ry="8.5" fill="none" stroke="#a6a6a6" stroke-width="1.2" />
<ellipse cx="478.5" cy="516.0" rx="5.5" ry="5.0" fill="none" stroke="#a6a6a6" stroke-width="2" />
<ellipse cx="512.5" cy="469.1" rx="6.0" ry="5.5" fill="none" stroke="#a6a6a6" stroke-width="1.2" />
<ellipse cx="512.5" cy="469.1" rx="3.0" ry="2.8" fill="none" stroke="#a6a6a6" stroke-width="1.2" />
<ellipse cx="557.5" cy="531.9" rx="6.0" ry="5.0" fill="none" stroke="#a6a6a6" stroke-width="1.2" />
<path d="M400,468.1 L456.3,492.5 C462,497 464,502 465,506 M400,501.9 L460,513.1" fill="none" stroke="#a6a6a6" stroke-width="1.0" stroke-linejoin="round" stroke-linecap="round" />
<path d="M418.75,468.1 C422,462 426,457 430,455 C440,452 448,451 456.3,451.3" fill="none" stroke="#a6a6a6" stroke-width="1.0" stroke-linejoin="round" stroke-linecap="round" />
<path d="M443.1,485 C450,480 456,478 461.9,477.5" fill="none" stroke="#a6a6a6" stroke-width="1.0" stroke-linejoin="round" stroke-linecap="round" />
<path d="M493.8,524.4 L553.8,535.6 M503.1,481.3 L505,522.5" fill="none" stroke="#a6a6a6" stroke-width="1.0" stroke-linejoin="round" stroke-linecap="round" />
<path d="M490,444.8 C495,450 498,455 499,460 M467,489 C475,480 495,478 505,481" fill="none" stroke="#a6a6a6" stroke-width="1.0" stroke-linejoin="round" stroke-linecap="round" />
<path d="M416.9,507.5 L437.5,571.3 L446.9,580.7 L497.5,593.8 L508.8,597.5" fill="none" stroke="#a6a6a6" stroke-width="1.0" stroke-linejoin="round" stroke-linecap="round" />
<path d="M491.9,531.9 L514.4,533.8 L531.3,575 L520,593.8 L508.8,597.5 L497.5,597.5 L495.6,593.8 Z" fill="none" stroke="#a6a6a6" stroke-width="1.0" stroke-linejoin="round" stroke-linecap="round" />
<path d="M506.9,535.6 L510.6,592 M513,535 L517,591" fill="none" stroke="#a6a6a6" stroke-width="1.0" stroke-linejoin="round" stroke-linecap="round" />
<ellipse cx="505.0" cy="591.0" rx="4.5" ry="3.5" fill="none" stroke="#a6a6a6" stroke-width="1.2" />
<path d="M478.8,592 L479.7,603 M483,592 L484,603 M475,601.3 L487.2,601.3 L487.2,615.4 L475,615.4 Z" fill="none" stroke="#a6a6a6" stroke-width="1.0" stroke-linejoin="round" stroke-linecap="round" />
<path d="M521.9,533.8 L531.3,539.4 L538.8,571.3 M531.3,575 L595,571.3 M536.9,545 L587.5,552.5 M535,554.4 L587.5,560 M531.3,571.3 L593.2,569.4" fill="none" stroke="#a6a6a6" stroke-width="1.0" stroke-linejoin="round" stroke-linecap="round" />
<path d="M564.8,500 C568,510 571,520 572.5,528 L578.2,537.5 M586.4,500 C590,515 594,530 597,545 L604,580" fill="none" stroke="#a6a6a6" stroke-width="1.0" stroke-linejoin="round" stroke-linecap="round" />
<path d="M565,582.5 L580,586.3 M578.2,582.5 C584,590 587,595 587.5,599.4 C589,606 590,612 589.4,620" fill="none" stroke="#a6a6a6" stroke-width="1.0" stroke-linejoin="round" stroke-linecap="round" />
<path d="M509.3,384.9 C512,383.5 515,384 517.4,387.6 L586.4,428.2 M509.3,384.9 L478.1,426.9 C477.5,429 478,431 479.5,432.3 L484.9,435" fill="none" stroke="#a6a6a6" stroke-width="1.0" stroke-linejoin="round" stroke-linecap="round" />
<path d="M514.7,390.3 C517,389 520,389.5 524.1,394.4 M514.7,390.3 L480.8,429.6" fill="none" stroke="#a6a6a6" stroke-width="1.0" stroke-linejoin="round" stroke-linecap="round" />
<path d="M524.1,394.4 L497.1,432.3 M484.9,435 L497,431 L554,443" fill="none" stroke="#a6a6a6" stroke-width="1.0" stroke-linejoin="round" stroke-linecap="round" />
<path d="M487.6,437.7 L551.2,453.9 L572.9,464.8 L589.1,485" fill="none" stroke="#a6a6a6" stroke-width="1.0" stroke-linejoin="round" stroke-linecap="round" />
<path d="M543.1,428.2 L553.9,414.7 L574.2,421.4 L582.4,429.6 L582.4,437.7 L572.9,451.2 L564.8,443.1 Z M553.9,414.7 L564.8,426 L582.4,429.6 M564.8,426 L564.8,443.1 M556,420 L570,424 M573,427 L573,449" fill="none" stroke="#a6a6a6" stroke-width="1.0" stroke-linejoin="round" stroke-linecap="round" />
<ellipse cx="570.2" cy="447.2" rx="4.5" ry="4.5" fill="none" stroke="#a6a6a6" stroke-width="1.2" />
<ellipse cx="570.2" cy="447.2" rx="2.0" ry="2.0" fill="none" stroke="#a6a6a6" stroke-width="1.1" />
<path d="M524.1,370 L548.5,390.3 L555.3,393 L583.7,414.7 L605.4,443.1 L630,445.8" fill="none" stroke="#a6a6a6" stroke-width="1.1" stroke-linejoin="round" stroke-linecap="round" />
<path d="M549.9,393 L586.4,428.2 L604,453.9" fill="none" stroke="#a6a6a6" stroke-width="1.0" stroke-linejoin="round" stroke-linecap="round" />
<path d="M587.8,432.3 L600,498.6 M602.7,445.8 L605.4,500 M605.4,451.2 L630,491.8" fill="none" stroke="#a6a6a6" stroke-width="1.0" stroke-linejoin="round" stroke-linecap="round" />
<path d="M507.9,458 C520,463 532,468 540.4,472.9 C547,478 552,483 556.6,487.8 L564.8,500" fill="none" stroke="#a6a6a6" stroke-width="1.0" stroke-linejoin="round" stroke-linecap="round" />
<path d="M514.7,451.2 C530,456 542,462 551.2,467.5 C560,474 567,480 572.9,485 L586.4,500" fill="none" stroke="#a6a6a6" stroke-width="1.0" stroke-linejoin="round" stroke-linecap="round" />
<ellipse cx="585.0" cy="468.8" rx="2.5" ry="3.5" fill="none" stroke="#a6a6a6" stroke-width="1.1" />
<path d="M605.6,441.6 C612,440.5 618,440.3 624.4,440.6 C632,443 639,446 645,450 C651,455 656,461 660,466.9 C664,472 667,478 669.4,483.75 C671,490 672.5,495 673.1,500.6 L674,517.5 C673.5,523 672.5,528 671.25,532.5 L667.5,551.25 L663.75,570 L660,588.75 L656.25,600" fill="none" stroke="#a6a6a6" stroke-width="1.1" stroke-linejoin="round" stroke-linecap="round" />
<path d="M669.4,486 C672,495 673,505 673,517 M671,532 L666,555 L662,575 L658,595" fill="none" stroke="#a6a6a6" stroke-width="1.0" stroke-linejoin="round" stroke-linecap="round" />
<path d="M615,450 C622,455 628,461 633.75,468.75 C637,475 640,482 642.2,489.4 C644,495 645,500 645,506.25 C644.5,514 643.5,521 642.2,528.75 C640,535 638,541 635.6,547.5 C632,554 628,560 624.4,566.25 C619,570 613,573 607.5,575.6" fill="none" stroke="#a6a6a6" stroke-width="1.0" stroke-linejoin="round" stroke-linecap="round" />
<path d="M618.75,453.75 C626,462 633,475 639.4,504.4 C638,513 637,520 635.6,526.9" fill="none" stroke="#a6a6a6" stroke-width="1.0" stroke-linejoin="round" stroke-linecap="round" />
<path d="M641.25,527.8 L669.4,529.7" fill="none" stroke="#a6a6a6" stroke-width="1.0" stroke-linejoin="round" stroke-linecap="round" />
<path d="M601.9,457.5 L626.25,491.25 L641.25,511.9 M596.25,453.75 L601.9,502.5 L620.6,532.5 L637.5,536.25 M600,502.5 L626.25,540" fill="none" stroke="#a6a6a6" stroke-width="1.0" stroke-linejoin="round" stroke-linecap="round" />
<path d="M594.4,444.4 L596.25,500.6 M571.9,476.25 L605.6,573.75 M577.5,472.5 L624.4,551.25" fill="none" stroke="#a6a6a6" stroke-width="1.0" stroke-linejoin="round" stroke-linecap="round" />
<path d="M582.5,573 C590,576 598,578 606,578.3 C615,578 624,577 632,575.7 C640,573 648,571 655.4,567.9" fill="none" stroke="#a6a6a6" stroke-width="1.0" stroke-linejoin="round" stroke-linecap="round" />
<path d="M520,541.8 L527.8,562.7 L593,567.9 L598,552.2" fill="none" stroke="#a6a6a6" stroke-width="1.0" stroke-linejoin="round" stroke-linecap="round" />
<ellipse cx="625.0" cy="603.8" rx="14.4" ry="17.5" fill="none" stroke="#a6a6a6" stroke-width="1.1" />
<ellipse cx="623.5" cy="603.8" rx="11.2" ry="13.8" fill="none" stroke="#a6a6a6" stroke-width="1.2" />
<ellipse cx="622.5" cy="603.8" rx="3.0" ry="3.0" fill="none" stroke="#a6a6a6" stroke-width="1.1" />
<path d="M520,541.8 L527.8,562.7 L593,567.9 L598,552.2" fill="none" stroke="#a6a6a6" stroke-width="1.0" stroke-linejoin="round" stroke-linecap="round" />
<path d="M274.7,420 L275.9,434 C282,440 288,443 293.4,445.8 L301.6,452.8" fill="none" stroke="#a6a6a6" stroke-width="1.0" stroke-linejoin="round" stroke-linecap="round" />
<path d="M302.8,454 L302.2,476.25 L305,478.6 L319.2,483.3 L325,483.3 L328.6,477.4" fill="none" stroke="#a6a6a6" stroke-width="1.0" stroke-linejoin="round" stroke-linecap="round" />
<ellipse cx="331.5" cy="461.6" rx="14.6" ry="12.5" fill="none" stroke="#a6a6a6" stroke-width="1.2" transform="rotate(30 331.5 461.6)" />
<ellipse cx="331.8" cy="461.8" rx="10.0" ry="8.5" fill="none" stroke="#a6a6a6" stroke-width="1.2" transform="rotate(30 331.8 461.8)" />
<ellipse cx="332.0" cy="462.0" rx="5.0" ry="4.0" fill="none" stroke="#a6a6a6" stroke-width="2.2" transform="rotate(30 332 462)" />
<path d="M331,475 L354.4,491.5 L363.75,489.1 L370,485" fill="none" stroke="#a6a6a6" stroke-width="1.0" stroke-linejoin="round" stroke-linecap="round" />
<path d="M326.25,448.1 L352,457.5 L366.7,463.3" fill="none" stroke="#a6a6a6" stroke-width="1.0" stroke-linejoin="round" stroke-linecap="round" />
<path d="M340.3,437.6 L352,457.5 M366,453 L368,488 M370,452 L373,487" fill="none" stroke="#a6a6a6" stroke-width="1.0" stroke-linejoin="round" stroke-linecap="round" />
<path d="M380,440 L388,440 L390,452 L382,452 Z" fill="none" stroke="#a6a6a6" stroke-width="1.0" stroke-linejoin="round" stroke-linecap="round" />
<path d="M577.5,582.5 C583,590 586,597 587.5,605 C589,612 589,618 588.75,625 C588,636 586,645 582.5,655 C579,664 576,672 572.5,680 C569,688 565,694 560,700 C556,706 552,711 547.5,715 C543,717 539,718.5 535,718.75 C530,718 525,715 520,712.5 C516,710 513,708 510,707.5 L500,706.25 C496,706 493,707 490.6,708.4 L477,722 L467,729.8 L375.4,765 C371,768 369,772 369.5,772.8 L371.5,788.4 C376,795 382,797 389,798.2 L447.7,815.8" fill="none" stroke="#a6a6a6" stroke-width="1.0" stroke-linejoin="round" stroke-linecap="round" />
<path d="M580,582 C585.5,590 588.5,597 590,605 C591.5,613 591.5,619 591,626 C590,637 588,646 585,656 C581.5,665 578.5,673 575,681 C571,689 567,695 562,701.5" fill="none" stroke="#a6a6a6" stroke-width="1.0" stroke-linejoin="round" stroke-linecap="round" />
<path d="M374,768 C372,775 372,782 374,787 C378,792 384,794 390,795" fill="none" stroke="#a6a6a6" stroke-width="1.0" stroke-linejoin="round" stroke-linecap="round" />
<path d="M665,560 L666.25,585 C665,595 663,603 660,610 C657,618 654,625 650,632.5 L635,660 L617.5,685 L595,710 L562.5,742.5 L530,772.5 L507.5,800 L490,822" fill="none" stroke="#a6a6a6" stroke-width="1.1" stroke-linejoin="round" stroke-linecap="round" />
<path d="M663,578 C662,590 660,600 657.5,610 C652,625 642,637 630,647.5 L622.5,662.5 L600,700 L550,755 L515,800 L500,822" fill="none" stroke="#a6a6a6" stroke-width="1.0" stroke-linejoin="round" stroke-linecap="round" />
<path d="M625,660 L562.5,715 L500,767.5 L455.5,815.8 M620,670 L500,772.5 M600,698.6 L516,802" fill="none" stroke="#a6a6a6" stroke-width="1.0" stroke-linejoin="round" stroke-linecap="round" />
<path d="M630,647.5 L625,660 M657.5,610 L660,606" fill="none" stroke="#a6a6a6" stroke-width="1.0" stroke-linejoin="round" stroke-linecap="round" />
<path d="M582.5,585 L615,595 M638.75,600 L660,606.25 M525,575 L595,577.5" fill="none" stroke="#a6a6a6" stroke-width="1.0" stroke-linejoin="round" stroke-linecap="round" />
<ellipse cx="499.4" cy="737.7" rx="14.6" ry="16.6" fill="none" stroke="#a6a6a6" stroke-width="1.0" />
<path d="M497,728 C494,732 494,742 497,746 M502,727 C498,731 498,743 502,747 M497,728 L503,727 M496,747 L502,747" fill="none" stroke="#a6a6a6" stroke-width="1.0" stroke-linejoin="round" stroke-linecap="round" />
<path d="M490,752 L502,730" fill="none" stroke="#a6a6a6" stroke-width="1.0" stroke-linejoin="round" stroke-linecap="round" />
<path d="M414.5,767 L424,762 L461.3,757 L469,759 L506,780.6 L508,786.5 L484.8,806 L463,800 L418,784.5 L413.5,774.8 Z" fill="none" stroke="#a6a6a6" stroke-width="1.0" stroke-linejoin="round" stroke-linecap="round" />
<path d="M420,770 L461,761 L503,783 L484,802 L421,781 Z" fill="none" stroke="#a6a6a6" stroke-width="1.0" stroke-linejoin="round" stroke-linecap="round" />
<path d="M460,812 L496,771" fill="none" stroke="#a6a6a6" stroke-width="1.0" stroke-linejoin="round" stroke-linecap="round" /></g>
</svg>
</body></html>
